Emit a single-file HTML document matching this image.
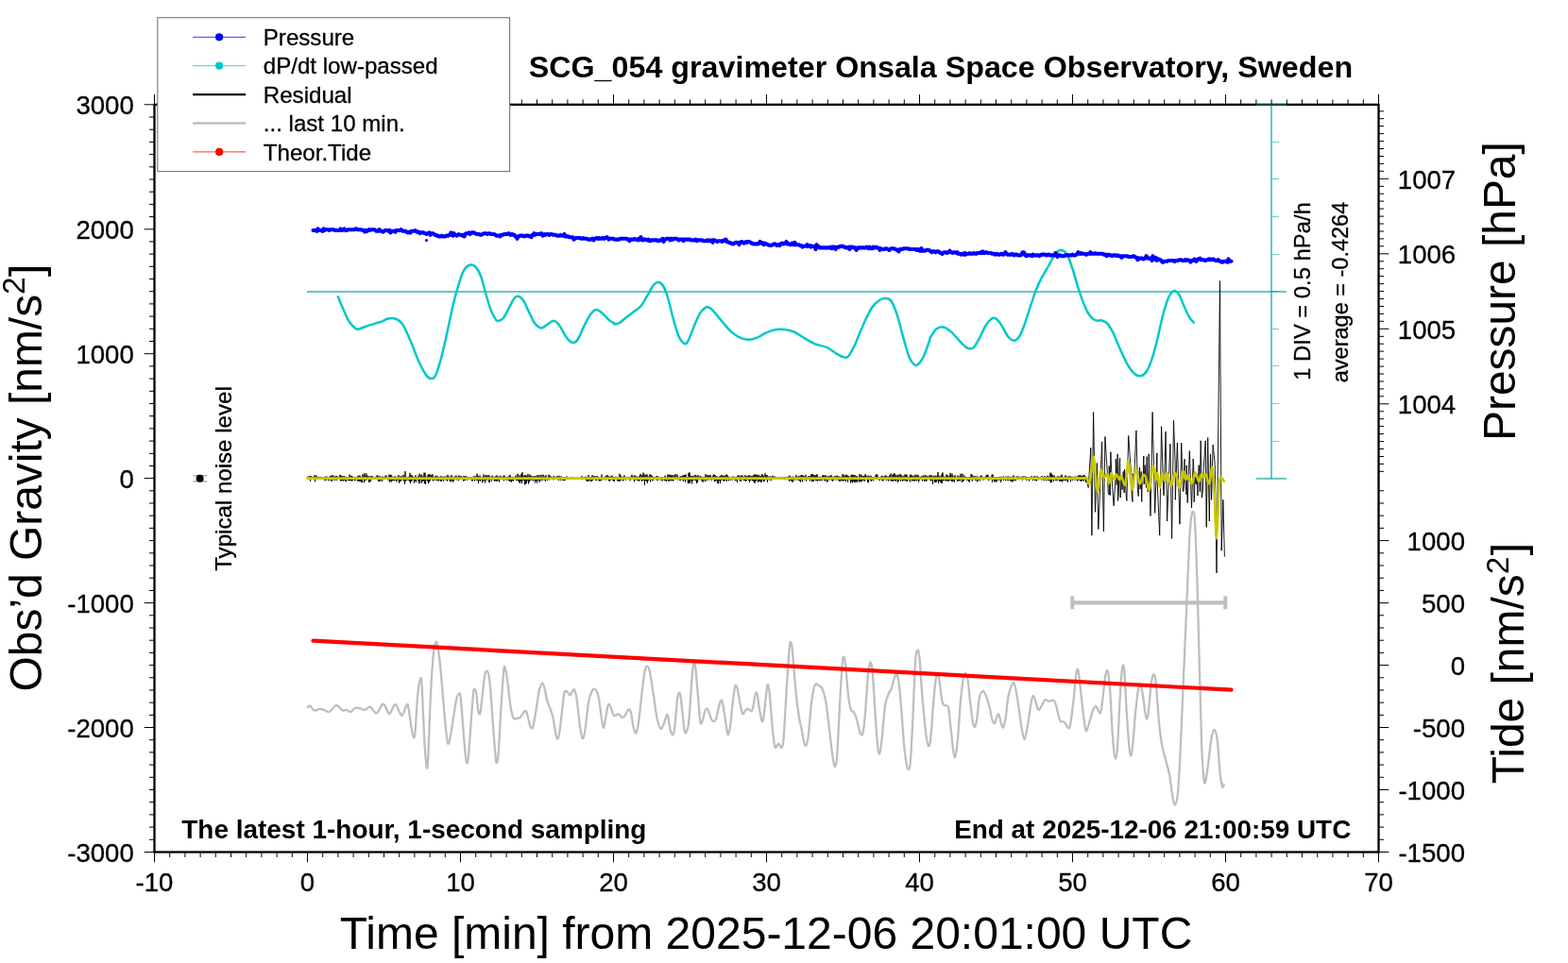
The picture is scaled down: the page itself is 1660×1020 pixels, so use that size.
<!DOCTYPE html>
<html lang="en"><head><meta charset="utf-8"><title>SCG_054 gravimeter Onsala Space Observatory, Sweden</title>
<style>html,body{margin:0;padding:0;background:#fff}body{width:1660px;height:1020px;overflow:hidden}svg{display:block}text{font-family:"Liberation Sans",sans-serif}</style>
</head><body>
<svg width="1660" height="1020" viewBox="0 0 1660 1020" font-family="Liberation Sans, Arimo, Helvetica, Arial, sans-serif" fill="#000">
<path d="M325.6 748.8 C326.1 748.7 327.1 747.3 328.4 747.9 C329.6 748.5 331.3 752.1 333 752.6 C334.7 753.1 336.9 751 338.6 750.9 C340.3 750.8 341.7 751.7 343.3 752.2 C344.8 752.7 346.5 754.2 347.9 754.1 C349.3 753.9 350.4 752.4 351.7 751.3 C352.9 750.1 354.3 747.5 355.4 747 C356.5 746.4 356.9 747.2 358.2 748.1 C359.4 749 361.4 751.9 362.8 752.6 C364.2 753.2 365.2 751.6 366.6 751.8 C368 752.1 369.7 754.4 371.2 754.1 C372.8 753.7 374.2 750.6 375.9 750 C377.6 749.3 379.8 750 381.5 750.3 C383.2 750.7 384.6 752.4 386.1 752.2 C387.7 751.9 389.5 749.1 390.8 748.8 C392 748.5 392.5 749.3 393.6 750.3 C394.7 751.4 396.2 754.4 397.3 755 C398.4 755.6 398.8 755.5 400.1 754.1 C401.3 752.6 403.5 747.3 404.7 746.2 C406 745.1 406.4 746 407.5 747.5 C408.6 749.1 410.3 754.2 411.3 755.5 C412.2 756.9 412.2 756.9 413.1 755.5 C414.1 754.2 415.8 749 416.8 747.5 C417.9 746.1 418.6 745.7 419.6 747 C420.7 748.2 422.3 753.3 423.4 755 C424.5 756.7 424.9 758.7 426.2 757.2 C427.4 755.8 429.7 747.2 430.8 746.2 C431.9 745.2 431.7 746.4 432.7 751.3 C433.6 756.1 435.3 771 436.4 775.5 C437.5 780 438.3 784.5 439.2 778.3 C440.1 772.1 441.1 748 442 738.2 C442.9 728.4 444 721.5 444.8 719.6 C445.6 717.7 445.9 715.9 446.6 727 C447.4 738.2 448.6 772.5 449.4 786.6 C450.3 800.8 451.1 809 451.7 811.8 C452.3 814.6 452.5 816.3 453.2 803.4 C453.9 790.5 455 752.8 456 734.5 C456.9 716.2 457.9 702.5 458.8 693.5 C459.6 684.5 460.4 682 461.2 680.5 C462 678.9 462.6 679.9 463.4 684.2 C464.2 688.6 465.3 697.6 466.2 706.6 C467.1 715.6 468.1 727.7 469 738.2 C469.9 748.8 470.9 761.7 471.8 769.9 C472.7 778.1 473.3 786 474.2 787.6 C475.1 789.1 476 784 477 779.2 C478 774.4 479.1 765.4 480.2 758.7 C481.3 752 482.6 743.1 483.5 739.2 C484.5 735.2 485.1 735.2 485.8 735.1 C486.4 734.9 486.8 732.1 487.6 738.2 C488.4 744.3 489.5 760.9 490.4 771.7 C491.3 782.6 492.4 797.8 493.2 803.4 C494 809 494.7 809.9 495.4 805.3 C496.2 800.6 497 786.6 497.9 775.5 C498.7 764.3 500 745.7 500.7 738.2 C501.3 730.8 501 731.7 501.6 730.8 C502.1 729.8 503.2 729.1 504 732.6 C504.8 736.2 505.5 748.5 506.2 752.2 C507 755.9 507.7 757.9 508.5 755 C509.3 752 510 741.5 510.9 734.5 C511.8 727.5 512.7 716.6 513.7 713.1 C514.7 709.5 516.1 710.1 517 713.1 C518 716 518.4 721.3 519.3 730.8 C520.1 740.2 521.2 758.4 522.1 769.9 C522.9 781.4 523.9 793.3 524.5 799.7 C525.1 806 525.3 808.4 525.8 808.1 C526.3 807.8 526.9 807.6 527.7 797.8 C528.4 788 529.5 764 530.5 749.4 C531.4 734.8 532.5 717.3 533.3 710.3 C534 703.3 534.1 705.9 534.7 707.5 C535.4 709 536 712.6 537 719.6 C538 726.6 539.6 742.6 540.7 749.4 C541.8 756.2 542.6 758.6 543.5 760.6 C544.4 762.5 545 761.3 546.3 761.1 C547.5 761 549.4 761 550.9 759.6 C552.5 758.3 554.4 753.7 555.6 753.1 C556.8 752.5 557.1 753.3 558 755.9 C559 758.6 560.2 766.5 561.2 769 C562.2 771.4 563.1 772.5 564 770.4 C564.9 768.4 565.7 763.1 566.8 756.8 C567.9 750.5 569.7 737.4 570.5 732.6 C571.3 727.8 571.3 729.5 571.9 728 C572.5 726.4 573.3 723.2 574.1 723.3 C574.9 723.5 575.6 725.8 576.5 728.9 C577.4 732 577.9 737.1 579.3 741.9 C580.7 746.8 583.3 751.7 584.9 757.8 C586.5 763.8 587.6 774.2 588.6 778.3 C589.6 782.3 590.3 783.7 591 782 C591.8 780.3 592.3 775.6 593.3 768 C594.3 760.4 596.1 742.4 597 736.4 C597.9 730.4 598.2 732.5 598.9 732.1 C599.6 731.6 600.5 732.9 601.3 733.6 C602.1 734.3 602.7 736.7 603.5 736.4 C604.4 736.1 605.5 732.6 606.3 731.7 C607.1 730.8 607.5 729.4 608.2 730.8 C608.9 732.2 609.7 733.9 610.6 740.1 C611.5 746.3 612.8 761 613.8 768 C614.8 775 615.6 781.1 616.6 782 C617.5 782.9 618.3 780 619.4 773.6 C620.4 767.2 621.8 750.8 623.1 743.8 C624.3 736.8 625.7 734 626.8 731.7 C627.9 729.4 628.7 729.5 629.6 729.8 C630.5 730.2 631.6 731.5 632.4 733.6 C633.2 735.6 633.3 736.2 634.3 741.9 C635.2 747.7 637 763.7 638 768 C638.9 772.4 638.9 771.4 639.8 768 C640.8 764.6 642.5 751 643.6 747.5 C644.6 744.1 645.1 746 646 747.5 C646.9 749.1 648.3 755.1 649.2 756.8 C650 758.6 650.1 758.2 651 758.2 C651.9 758.1 653.5 756 654.7 756.3 C656 756.5 657.4 759.2 658.5 759.6 C659.6 760 660.2 760 661.3 758.7 C662.3 757.4 663.9 752.6 665 751.8 C666.1 751 666.8 751 667.8 754.1 C668.7 757.1 669.6 766.2 670.6 769.9 C671.5 773.6 672.4 777.3 673.4 776.4 C674.3 775.5 675.1 771.9 676.2 764.3 C677.2 756.7 678.8 739.8 679.9 730.8 C681 721.8 681.8 714.5 682.7 710.3 C683.5 706.1 684.3 705.6 685.1 705.6 C685.9 705.6 686.7 706.1 687.7 710.3 C688.7 714.5 689.7 722.2 691.1 730.8 C692.4 739.3 694.3 754.7 695.7 761.5 C697.1 768.3 698.4 770.7 699.4 771.7 C700.5 772.8 701.3 770 702.2 768 C703.2 766 704.3 761.3 705 759.6 C705.8 757.9 706.1 755.5 706.9 757.8 C707.7 760.1 708.8 770.2 709.7 773.6 C710.6 777 711.7 778.9 712.5 778.3 C713.3 777.6 713.6 776.2 714.3 769.9 C715.1 763.5 716.4 746.1 717.1 740.1 C717.9 734 718.4 733.6 719 733.6 C719.6 733.6 719.9 733.4 720.9 740.1 C721.8 746.8 723.6 768 724.6 773.6 C725.6 779.3 726.2 775.5 727 774 C727.8 772.4 728.4 772.4 729.2 764.3 C730.1 756.2 731.3 735.3 732 725.2 C732.8 715.1 733.4 707.6 733.9 703.8 C734.4 699.9 734.5 700.8 735 701.9 C735.5 703 735.9 703.3 736.7 710.3 C737.4 717.3 738.7 734.8 739.5 743.8 C740.3 752.8 740.7 760.7 741.3 764.3 C742 767.9 742.4 766.9 743.2 765.2 C744 763.5 745.2 756.5 746 754.1 C746.8 751.6 747.2 751 747.9 750.7 C748.5 750.4 748.8 750.2 749.7 752.2 C750.7 754.1 752.4 760.5 753.5 762.4 C754.5 764.4 755.5 764.1 756.2 763.9 C757 763.8 757.2 764.5 758.1 761.5 C759 758.5 760.8 748.9 761.8 745.7 C762.9 742.4 763.5 740.7 764.3 741.9 C765 743.2 765.7 748.2 766.5 753.1 C767.3 758.1 768.6 767.6 769.3 771.7 C770 775.9 770.2 778.6 770.8 778.3 C771.4 778 772.2 775.6 773 769.9 C773.8 764.1 774.9 751 775.8 743.8 C776.7 736.7 777.4 729.5 778.2 727 C779 724.6 779.6 726.1 780.5 728.9 C781.3 731.7 782.3 739.3 783.3 743.8 C784.2 748.3 785.1 754.4 786 755.9 C787 757.5 787.9 754 788.8 753.1 C789.8 752.3 790.5 750.7 791.6 750.7 C792.7 750.7 794.4 753.3 795.4 753.1 C796.3 752.9 796.5 752.2 797.2 749.4 C797.9 746.6 798.7 738.8 799.5 736.4 C800.2 733.9 800.8 732.3 801.5 734.5 C802.2 736.7 802.9 744.6 803.7 749.4 C804.6 754.2 805.8 761.7 806.5 763.4 C807.3 765.1 807.6 764.5 808.4 759.6 C809.2 754.8 810.5 740.2 811.2 734.5 C811.9 728.8 812.1 725.5 812.7 725.2 C813.2 724.9 813.7 725.2 814.5 732.6 C815.4 740.1 816.7 760.1 817.7 769.9 C818.7 779.7 819.4 788.4 820.5 791.3 C821.6 794.3 822.9 787.5 824.1 787.6 C825.3 787.7 826.5 792.9 827.4 791.9 C828.4 790.8 828.8 792.2 829.7 781.1 C830.6 769.9 832 741 833 725.2 C834.1 709.4 835.1 693.5 835.8 686.1 C836.5 678.6 836.8 679.9 837.3 680.5 C837.8 681.1 838.2 681.4 839 689.8 C839.8 698.2 841.2 719 842.3 730.8 C843.5 742.6 845 753.4 846.1 760.6 C847.2 767.7 848 769.3 848.9 773.6 C849.7 778 850.5 784 851.3 786.6 C852.1 789.3 852.8 790.7 853.5 789.4 C854.3 788.2 854.8 786.8 855.8 779.2 C856.7 771.6 858.1 752.3 859.1 743.8 C860.1 735.3 861.1 731.2 861.9 728 C862.7 724.7 863 724.6 863.8 724.3 C864.5 723.9 865.5 725.3 866.6 726.1 C867.6 726.9 869 726.3 870.3 728.9 C871.5 731.5 872.8 735.1 874 741.9 C875.3 748.8 876.6 761.2 877.7 769.9 C878.8 778.6 879.7 787.6 880.5 794.1 C881.4 800.6 882.1 806.1 882.8 809 C883.4 811.9 883.7 812.7 884.3 811.4 C884.8 810.2 885.3 811.9 886.1 801.5 C886.9 791.2 888 765.9 888.9 749.4 C889.8 732.9 890.9 711.7 891.7 702.8 C892.5 694 892.9 695.7 893.6 696.3 C894.2 696.9 894.7 699.6 895.4 706.6 C896.2 713.5 897.3 730.6 898.2 738.2 C899.2 745.8 900.1 749.6 901 752.2 C901.9 754.8 902.9 752.7 903.8 754.1 C904.7 755.5 905.7 757.6 906.6 760.6 C907.5 763.5 908.6 768.9 909.4 771.7 C910.2 774.6 910.6 776.9 911.3 777.7 C911.9 778.5 912.7 779.9 913.5 776.4 C914.3 772.9 915 766.6 915.9 756.8 C916.8 747.1 917.9 726.6 918.7 717.7 C919.5 708.9 920 706.3 920.6 703.8 C921.1 701.2 921.5 700.8 922.1 702.5 C922.6 704.2 923.1 703.7 923.9 714 C924.8 724.3 926.2 751.1 927.1 764.3 C928 777.5 928.8 787.6 929.5 793.2 C930.2 798.8 930.7 799.5 931.4 797.8 C932.1 796.1 932.7 791.3 933.6 782.9 C934.5 774.5 935.9 755.3 937 747.5 C938 739.8 939 739.5 940.1 736.4 C941.3 733.3 942.8 731.9 943.9 728.9 C944.9 726 945.8 721.2 946.6 718.7 C947.5 716.2 948.1 713.5 948.9 714 C949.7 714.5 950.4 715.6 951.3 721.5 C952.2 727.4 953.2 738.5 954.1 749.4 C955 760.3 956 776.7 956.9 786.6 C957.8 796.6 958.8 804.3 959.7 809 C960.5 813.7 961.2 815.3 961.9 815 C962.6 814.6 963.1 815.6 963.8 807.1 C964.5 798.7 965.3 782 966.2 764.3 C967.1 746.6 968.2 713.4 969 701 C969.8 688.6 970.3 691.7 970.9 689.8 C971.4 687.9 971.7 687.9 972.2 689.4 C972.6 691 972.9 691 973.7 699.1 C974.4 707.2 975.5 726.7 976.4 738.2 C977.4 749.7 978.5 760.6 979.2 768 C980 775.5 980.4 779.2 981.1 782.9 C981.8 786.6 982.6 790.7 983.3 790.4 C984.1 790.1 984.7 787.6 985.4 781.1 C986.1 774.5 986.8 761.2 987.6 751.3 C988.5 741.3 989.5 727.8 990.4 721.5 C991.3 715.1 992.1 712.5 992.8 713.1 C993.6 713.7 994.3 720.4 995.1 725.2 C995.8 730 996.5 738.3 997.3 741.9 C998.1 745.6 998.9 746.3 999.7 747.2 C1000.5 748 1001.4 746.5 1002.1 747.2 C1002.9 747.8 1003.5 746.2 1004.4 751.3 C1005.2 756.3 1006.2 769.2 1007.2 777.3 C1008.1 785.5 1009.2 796.4 1010 800.1 C1010.7 803.7 1011.2 802.5 1011.8 799.3 C1012.5 796.1 1013.2 790.6 1014.1 781.1 C1014.9 771.5 1016.1 752.2 1017 741.9 C1018 731.7 1018.8 724.4 1019.7 719.6 C1020.5 714.8 1021.3 713.1 1022.1 713.1 C1022.9 713.1 1023.7 715.1 1024.5 719.6 C1025.3 724.1 1025.9 732.9 1026.7 740.1 C1027.6 747.2 1028.8 757.5 1029.5 762.4 C1030.3 767.4 1030.7 769.6 1031.4 769.9 C1032.1 770.2 1032.9 769.6 1033.8 764.3 C1034.7 759 1036 743.5 1037 738.2 C1038 732.9 1039 733.6 1039.8 732.6 C1040.5 731.7 1040.9 731.7 1041.6 732.6 C1042.4 733.6 1043.3 735.1 1044.4 738.2 C1045.5 741.3 1047.2 747.5 1048.2 751.3 C1049.1 755 1049.2 758.1 1050 760.6 C1050.8 763.1 1051.9 766.5 1052.8 766.2 C1053.7 765.9 1054.8 760.3 1055.6 758.7 C1056.4 757.2 1056.8 755.6 1057.5 756.8 C1058.2 758.1 1059.1 763.9 1059.9 766.2 C1060.7 768.4 1061.3 771.7 1062.1 770.4 C1063 769.2 1064 764.4 1064.9 758.7 C1065.8 753 1066.3 742.2 1067.7 736.4 C1069.1 730.5 1071.7 722.7 1073.2 723.4 C1074.8 724 1075.8 732.5 1077.1 740.2 C1078.5 747.9 1080.1 762.1 1081.3 769.3 C1082.6 776.5 1083.5 783.2 1084.6 783.2 C1085.6 783.2 1086.4 776.6 1087.8 769.3 C1089.1 762 1091.4 744.5 1092.6 739.6 C1093.9 734.6 1094.1 737.6 1095.2 739.6 C1096.3 741.5 1097.9 750.1 1099.1 751.5 C1100.3 753 1101.2 750 1102.3 748.3 C1103.5 746.6 1104.9 742.1 1106.2 741.2 C1107.6 740.3 1108.9 742.7 1110.4 742.8 C1111.9 742.9 1114 741.2 1115.3 741.8 C1116.5 742.5 1116.7 743.1 1117.9 746.7 C1119 750.3 1120.9 760.5 1122.4 763.5 C1123.8 766.4 1125.2 763.2 1126.6 764.5 C1128 765.7 1129.7 770.4 1130.8 770.9 C1131.9 771.5 1132.1 772.3 1133.1 767.7 C1134 763.1 1135.2 752.6 1136.3 743.4 C1137.4 734.3 1138.6 717.9 1139.5 712.7 C1140.4 707.5 1140.9 707.5 1141.8 712.1 C1142.7 716.6 1143.8 730.1 1145 740.2 C1146.3 750.3 1148 768 1149.2 772.5 C1150.5 777.1 1151.1 771.2 1152.5 767.7 C1153.8 764.2 1156 754.8 1157.3 751.5 C1158.7 748.3 1159.3 747.6 1160.5 748.3 C1161.8 748.9 1163.7 756.2 1164.8 755.4 C1165.8 754.6 1166.1 750 1167 743.4 C1167.9 736.9 1169.3 721.3 1170.2 715.9 C1171.2 710.6 1172 708.7 1172.8 711.1 C1173.6 713.5 1174.2 718.1 1175.1 730.5 C1176 742.9 1177.4 773.3 1178.3 785.5 C1179.3 797.6 1180.1 802.7 1180.9 803.3 C1181.7 803.8 1182.4 799.8 1183.2 788.7 C1184 777.7 1185 750.4 1185.8 737 C1186.6 723.5 1187.3 712.3 1188 707.9 C1188.8 703.4 1189.5 702.4 1190.3 710.4 C1191.1 718.5 1191.9 742 1192.9 756.4 C1193.9 770.8 1195.1 790.6 1196.1 796.8 C1197.1 803 1197.7 800.3 1198.7 793.6 C1199.7 786.8 1200.9 767.1 1201.9 756.4 C1203 745.6 1204.3 734 1205.2 728.9 C1206.1 723.8 1206.6 724.3 1207.4 725.6 C1208.2 727 1209.1 731.3 1210 737 C1211 742.6 1212.3 756.4 1213.3 759.6 C1214.2 762.8 1214.6 762.3 1215.5 756.4 C1216.4 750.4 1217.8 731 1218.8 724 C1219.7 717 1220.2 714.6 1221 714.3 C1221.8 714.1 1222.6 714.3 1223.6 722.4 C1224.6 730.5 1225.8 751.8 1226.8 762.8 C1227.9 773.9 1228.7 781.2 1230.1 788.7 C1231.4 796.3 1233.6 802.7 1234.9 808.1 C1236.3 813.5 1237.1 815.1 1238.2 821 C1239.2 827 1240.4 838.5 1241.4 843.7 C1242.4 848.9 1243.1 853 1244 852.4 C1244.9 851.9 1246 849.4 1246.9 840.4 C1247.8 831.4 1248.5 817.8 1249.5 798.4 C1250.4 779 1251.6 748.8 1252.7 724 C1253.8 699.2 1254.9 675 1255.9 649.7 C1257 624.3 1258.3 589.3 1259.2 572 C1260.1 554.8 1260.7 551.1 1261.4 546.2 C1262.1 541.2 1262.8 541.2 1263.4 542.3 C1264 543.4 1264.4 541.2 1265 552.6 C1265.6 564.1 1266.5 585 1267.3 610.8 C1268.1 636.7 1269 678.2 1269.9 707.9 C1270.7 737.5 1271.4 769.3 1272.1 788.7 C1272.9 808.1 1273.7 817.8 1274.4 824.3 C1275.1 830.7 1275.5 830.7 1276.3 827.5 C1277.2 824.3 1278.5 812.7 1279.6 804.9 C1280.6 797.1 1281.7 785.9 1282.8 780.6 C1283.9 775.3 1285 772.4 1286 773.2 C1287 774 1288 778 1288.9 785.5 C1289.8 792.9 1290.7 809.8 1291.5 817.8 C1292.4 825.8 1293.4 831.2 1294.1 833.3 C1294.8 835.5 1295.5 831.2 1295.7 830.7" fill="none" stroke="#bebebe" stroke-width="2.3" stroke-linejoin="round" stroke-linecap="round"/>
<path d="M1135.3 638.3 H1297.3" stroke="#bebebe" stroke-width="4.2" fill="none"/>
<path d="M1135.3 631.5 V645.3 M1297.3 631.5 V645.3" stroke="#bebebe" stroke-width="4" fill="none"/>
<path d="M331.5 678.6 L1303.5 730.7" stroke="#ff0000" stroke-width="4.2" stroke-linecap="round" fill="none"/>
<path d="M325 309 H1362" stroke="#00a0a0" stroke-opacity="0.6" stroke-width="2" fill="none" shape-rendering="crispEdges"/>
<path d="M1346 110.8 V506.6" stroke="#00a0a0" stroke-opacity="0.6" stroke-width="2" fill="none" shape-rendering="crispEdges"/>
<path d="M1330 507 H1362" stroke="#00a0a0" stroke-opacity="0.6" stroke-width="2" fill="none" shape-rendering="crispEdges"/>
<path d="M1347 150.5 H1354 M1347 189.5 H1354 M1347 229.5 H1354 M1347 269.5 H1354 M1347 308.5 H1354 M1347 348.5 H1354 M1347 387.5 H1354 M1347 427.5 H1354 M1347 467.5 H1354 " stroke="#00a0a0" stroke-opacity="0.55" stroke-width="1" fill="none" shape-rendering="crispEdges"/>
<path d="M325.5 507.4 L326 504.6 L326.5 507.6 L327 505.9 L327.5 507.4 L328 504 L328.5 509.7 L329 504.1 L329.5 508 L330 505.5 L330.5 507.7 L331 505.4 L331.5 507.4 L332 505.3 L332.5 507.8 L333 503.3 L333.5 510.2 L334 504.7 L334.5 507.8 L335 503.5 L335.5 507.9 L336 505.4 L336.5 507.3 L337 505.6 L337.5 507.8 L338 505.3 L338.5 507.6 L339 504.9 L339.5 507.5 L340 505.5 L340.5 507.5 L341 505.5 L341.5 507.3 L342 506 L342.5 507.7 L343 505.6 L343.5 508.6 L344 504.9 L344.5 508.9 L345 504.8 L345.5 508.4 L346 504.6 L346.5 507.7 L347 505.7 L347.5 509.1 L348 505.9 L348.5 508.6 L349 504.8 L349.5 507.5 L350 503.8 L350.5 509.9 L351 504.2 L351.5 509.7 L352 503.1 L352.5 507.8 L353 504.7 L353.5 508.3 L354 504.5 L354.5 508.7 L355 504.5 L355.5 508.2 L356 504.2 L356.5 508.7 L357 504.4 L357.5 507.8 L358 505.7 L358.5 507.8 L359 504.9 L359.5 507.9 L360 502.8 L360.5 509.4 L361 503.8 L361.5 509.3 L362 503.9 L362.5 508.6 L363 505.7 L363.5 509.5 L364 504.1 L364.5 508.4 L365 504.6 L365.5 509.4 L366 505.4 L366.5 510.3 L367 505.1 L367.5 507.7 L368 505.5 L368.5 508.6 L369 505.7 L369.5 509.2 L370 502.7 L370.5 509.1 L371 504.5 L371.5 508.9 L372 503.8 L372.5 509.5 L373 504.5 L373.5 508.9 L374 505.7 L374.5 507.6 L375 505.5 L375.5 509.1 L376 505.4 L376.5 508.6 L377 505.8 L377.5 507.6 L378 505.3 L378.5 509.4 L379 503.7 L379.5 509.9 L380 504.7 L380.5 509.8 L381 503.5 L381.5 509.7 L382 505.1 L382.5 511.1 L383 505.3 L383.5 510.8 L384 502.3 L384.5 507.9 L385 504 L385.5 511.2 L386 501.2 L386.5 509.3 L387 504.7 L387.5 508.4 L388 501.7 L388.5 508.2 L389 504 L389.5 507.9 L390 504.3 L390.5 510.9 L391 505.3 L391.5 510.4 L392 504.4 L392.5 510 L393 504.3 L393.5 507.6 L394 504.2 L394.5 508 L395 506 L395.5 507.3 L396 505.3 L396.5 507.9 L397 505.6 L397.5 507.5 L398 505.4 L398.5 507.9 L399 503.6 L399.5 507.6 L400 503.6 L400.5 510 L401 505.6 L401.5 510 L402 504.2 L402.5 509.6 L403 505.4 L403.5 508 L404 505.3 L404.5 509.9 L405 504.6 L405.5 508.1 L406 504.9 L406.5 508 L407 505.7 L407.5 507.6 L408 503.8 L408.5 507.9 L409 503.6 L409.5 507.8 L410 505.6 L410.5 508.3 L411 505.6 L411.5 508.3 L412 502.7 L412.5 510.5 L413 503.2 L413.5 509.3 L414 502.8 L414.5 510.6 L415 504.5 L415.5 509.2 L416 505.8 L416.5 508.8 L417 505.1 L417.5 509.2 L418 504.3 L418.5 508.1 L419 505.6 L419.5 510.3 L420 505.5 L420.5 508.6 L421 505 L421.5 508.3 L422 503.1 L422.5 511.7 L423 504.8 L423.5 510.2 L424 504.6 L424.5 509.7 L425 504.3 L425.5 508.2 L426 505.2 L426.5 508.1 L427 502.8 L427.5 509.2 L428 504.7 L428.5 512.6 L429 499.2 L429.5 509.9 L430 504.9 L430.5 508.3 L431 505.5 L431.5 508.4 L432 505.3 L432.5 508.4 L433 504.7 L433.5 510.1 L434 500.9 L434.5 511.8 L435 503.4 L435.5 509.9 L436 503.2 L436.5 509.1 L437 504.7 L437.5 507.9 L438 504.9 L438.5 511.7 L439 505.1 L439.5 509.6 L440 503.4 L440.5 510.5 L441 505.3 L441.5 507.9 L442 505.3 L442.5 508.7 L443 504.2 L443.5 512.1 L444 501.8 L444.5 511.7 L445 505.1 L445.5 508.2 L446 502.5 L446.5 511.8 L447 503.8 L447.5 509.9 L448 505.2 L448.5 509.3 L449 500.7 L449.5 512.2 L450 500.8 L450.5 512.8 L451 504.7 L451.5 508.1 L452 505.2 L452.5 509.4 L453 502.9 L453.5 512.1 L454 502.3 L454.5 510.4 L455 502.4 L455.5 509.2 L456 503.8 L456.5 507.9 L457 502.9 L457.5 508.2 L458 502.5 L458.5 509.4 L459 505.1 L459.5 507.8 L460 505.3 L460.5 509.1 L461 503.8 L461.5 507.8 L462 505.5 L462.5 509.2 L463 503.9 L463.5 508.7 L464 505.1 L464.5 509.5 L465 505.5 L465.5 508.2 L466 504.8 L466.5 510 L467 504.3 L467.5 510 L468 504.7 L468.5 508 L469 505.4 L469.5 509.8 L470 504.6 L470.5 507.6 L471 506 L471.5 508.2 L472 504.3 L472.5 508.5 L473 505.2 L473.5 509.4 L474 502.9 L474.5 508 L475 505.6 L475.5 508.4 L476 504.6 L476.5 509.9 L477 505.1 L477.5 510.4 L478 503.2 L478.5 509 L479 505.2 L479.5 510.6 L480 505.2 L480.5 509.4 L481 505.6 L481.5 507.7 L482 504.3 L482.5 507.8 L483 503.6 L483.5 508.4 L484 505.5 L484.5 507.9 L485 504.8 L485.5 509.2 L486 503.5 L486.5 507.5 L487 505.6 L487.5 507.4 L488 504 L488.5 507.5 L489 505.8 L489.5 507.5 L490 505.2 L490.5 509.4 L491 504.2 L491.5 508.6 L492 504 L492.5 509.1 L493 505.6 L493.5 507.4 L494 504.3 L494.5 508.4 L495 506 L495.5 508.2 L496 505.5 L496.5 508 L497 505.2 L497.5 507.9 L498 505.6 L498.5 508 L499 505.3 L499.5 509.4 L500 505.9 L500.5 509.4 L501 505.7 L501.5 507.9 L502 504 L502.5 509.5 L503 504.9 L503.5 507.7 L504 504.6 L504.5 508.7 L505 501.8 L505.5 508.5 L506 503.9 L506.5 512 L507 505.3 L507.5 508.7 L508 503.6 L508.5 509.6 L509 505.6 L509.5 507.8 L510 505.4 L510.5 511.1 L511 505 L511.5 510.1 L512 502.5 L512.5 508.5 L513 504.9 L513.5 511.4 L514 503.5 L514.5 508.4 L515 503.2 L515.5 508.5 L516 505 L516.5 507.8 L517 503.2 L517.5 510.9 L518 503.7 L518.5 511 L519 505.6 L519.5 507.9 L520 504.9 L520.5 509.6 L521 503.7 L521.5 508 L522 505.5 L522.5 508.2 L523 504.9 L523.5 509.7 L524 505.6 L524.5 509.2 L525 504.1 L525.5 509.8 L526 503.5 L526.5 509.4 L527 504.8 L527.5 508.5 L528 504.6 L528.5 510.5 L529 505.3 L529.5 508.1 L530 503.8 L530.5 507.8 L531 505.9 L531.5 507.4 L532 505.1 L532.5 507.8 L533 503.8 L533.5 509.3 L534 503.6 L534.5 507.7 L535 505.8 L535.5 507.5 L536 505 L536.5 508.9 L537 505.1 L537.5 507.8 L538 505 L538.5 509.1 L539 503.9 L539.5 509.9 L540 502.9 L540.5 509.7 L541 505.3 L541.5 510.6 L542 505 L542.5 509.1 L543 504.9 L543.5 509.5 L544 505.5 L544.5 507.8 L545 505.5 L545.5 507.6 L546 503.6 L546.5 508.9 L547 505 L547.5 508.7 L548 501.8 L548.5 509.2 L549 505 L549.5 510.5 L550 503.4 L550.5 511.9 L551 505.1 L551.5 509.5 L552 501.8 L552.5 512.1 L553 500.3 L553.5 508.6 L554 503.8 L554.5 508.7 L555 504.4 L555.5 513.4 L556 502.8 L556.5 512.6 L557 504 L557.5 511.9 L558 503.8 L558.5 508.8 L559 502 L559.5 512.5 L560 504.9 L560.5 510.5 L561 502.7 L561.5 508.8 L562 503.9 L562.5 508.4 L563 504.9 L563.5 508.3 L564 504.2 L564.5 509.3 L565 505.1 L565.5 508.1 L566 504.1 L566.5 511.4 L567 504.5 L567.5 509.2 L568 504.6 L568.5 511.6 L569 503.1 L569.5 508.3 L570 504.9 L570.5 509.5 L571 503.1 L571.5 510.6 L572 505 L572.5 508.4 L573 502.9 L573.5 508.9 L574 504.9 L574.5 508.3 L575 502.7 L575.5 508.2 L576 504.3 L576.5 508.3 L577 504.9 L577.5 509.7 L578 503.3 L578.5 507.9 L579 505.7 L579.5 509.1 L580 505.4 L580.5 507.7 L581 502.7 L581.5 508.4 L582 503.8 L582.5 508 L583 504.4 L583.5 507.9 L584 505.9 L584.5 507.3 L585 505.2 L585.5 508.3 L586 504.2 L586.5 507.4 L587 504.9 L587.5 507.9 L588 505.2 L588.5 507.5 L589 505.6 L589.5 508.1 L590 504 L590.5 507.5 L591 505.1 L591.5 509.1 L592 503.8 L592.5 507.5 L593 505.9 L593.5 508.9 L594 504.4 L594.5 507.8 L595 506.1 L595.5 508.7 L596 505.6 L596.5 508.8 L597 505.1 L597.5 508.8 L598 505.9 L598.5 508.6 L599 505.8 L599.5 507.8 L600 504.5 L600.5 507.4 L601 506.3 L601.5 507 L602 506.2 L602.5 507.2 L603 506.3 L603.5 506.9 L604 506.4 L604.5 507.4 L605 505.5 L605.5 507 L606 505.7 L606.5 507.8 L607 506.3 L607.5 507.8 L608 506.3 L608.5 507.4 L609 506 L609.5 507.3 L610 506.3 L610.5 507.1 L611 506.1 L611.5 507.1 L612 506 L612.5 507.1 L613 506.2 L613.5 506.9 L614 506 L614.5 507.2 L615 506.3 L615.5 507.5 L616 504.2 L616.5 508.2 L617 505.7 L617.5 508 L618 505.9 L618.5 507.4 L619 505.2 L619.5 507.6 L620 504.7 L620.5 509.1 L621 505.4 L621.5 509.7 L622 505.3 L622.5 510.2 L623 503.1 L623.5 508.9 L624 505.6 L624.5 508.5 L625 505.2 L625.5 510 L626 505.6 L626.5 509.7 L627 503.3 L627.5 508.9 L628 504.4 L628.5 507.5 L629 504.3 L629.5 507.9 L630 504.3 L630.5 508.9 L631 505.9 L631.5 508.7 L632 504 L632.5 507.4 L633 505.4 L633.5 509 L634 505.7 L634.5 509.3 L635 505.6 L635.5 509.3 L636 505.6 L636.5 508.8 L637 502.6 L637.5 508 L638 505.3 L638.5 508.3 L639 505.6 L639.5 507.3 L640 505.9 L640.5 507.4 L641 504.5 L641.5 508.4 L642 503.8 L642.5 507.8 L643 503.2 L643.5 508 L644 504.2 L644.5 509.3 L645 505 L645.5 509.8 L646 504.8 L646.5 508.5 L647 504.2 L647.5 507.4 L648 503.8 L648.5 508.6 L649 505.2 L649.5 509.5 L650 505.4 L650.5 509.7 L651 505.1 L651.5 507.6 L652 504.8 L652.5 508 L653 505.7 L653.5 509.2 L654 505.7 L654.5 510 L655 505.1 L655.5 509.7 L656 501.8 L656.5 509.5 L657 503.5 L657.5 508.4 L658 505.5 L658.5 507.8 L659 505.4 L659.5 509.3 L660 504.7 L660.5 508.7 L661 503.5 L661.5 507.6 L662 505.7 L662.5 508.6 L663 505.9 L663.5 507.4 L664 505.3 L664.5 507.5 L665 505.4 L665.5 507.6 L666 505.1 L666.5 508.4 L667 505.6 L667.5 508.9 L668 504.6 L668.5 507.9 L669 502.8 L669.5 508 L670 505.5 L670.5 507.7 L671 504.2 L671.5 510.2 L672 503.4 L672.5 508.6 L673 505.2 L673.5 507.6 L674 504.3 L674.5 508.6 L675 505.3 L675.5 508.8 L676 505.1 L676.5 509.8 L677 503.9 L677.5 508.2 L678 502 L678.5 508.2 L679 503.1 L679.5 509.7 L680 504.2 L680.5 508.7 L681 500.6 L681.5 508.6 L682 502.4 L682.5 513.7 L683 504.5 L683.5 508.9 L684 502.5 L684.5 510.1 L685 502.6 L685.5 511.6 L686 504.8 L686.5 508.8 L687 504.6 L687.5 508 L688 502.2 L688.5 510.4 L689 503.4 L689.5 507.7 L690 503.5 L690.5 509.2 L691 505.2 L691.5 508.8 L692 505.1 L692.5 507.8 L693 505.7 L693.5 507.9 L694 505.8 L694.5 508 L695 504.2 L695.5 508.8 L696 504.2 L696.5 508.5 L697 505.8 L697.5 507.9 L698 505.6 L698.5 508.4 L699 505.4 L699.5 507.5 L700 505.1 L700.5 509.2 L701 505.7 L701.5 509.2 L702 505.9 L702.5 507.7 L703 505.7 L703.5 508.8 L704 503.7 L704.5 509.2 L705 505.2 L705.5 510.1 L706 505 L706.5 508.1 L707 502.5 L707.5 509.6 L708 503.4 L708.5 509.6 L709 502.7 L709.5 508.5 L710 503.7 L710.5 509.3 L711 503.1 L711.5 508.8 L712 503.2 L712.5 509.5 L713 504.8 L713.5 508.3 L714 503.5 L714.5 508 L715 502.1 L715.5 508.1 L716 505.4 L716.5 508 L717 502.6 L717.5 508.3 L718 505.6 L718.5 507.5 L719 505.8 L719.5 509 L720 504.6 L720.5 508.9 L721 504.2 L721.5 507.6 L722 504.5 L722.5 508.2 L723 503.6 L723.5 509.8 L724 503.2 L724.5 507.7 L725 503.1 L725.5 510.5 L726 502.5 L726.5 507.9 L727 505.1 L727.5 508.2 L728 505.1 L728.5 512.2 L729 501 L729.5 511.3 L730 500.3 L730.5 511.7 L731 503.7 L731.5 508.8 L732 504.5 L732.5 512.4 L733 504.3 L733.5 509.3 L734 503.8 L734.5 508.1 L735 504.8 L735.5 508.6 L736 502.8 L736.5 508.9 L737 504.5 L737.5 511.9 L738 503.9 L738.5 511.2 L739 503.3 L739.5 507.9 L740 504.8 L740.5 508.3 L741 504.5 L741.5 507.9 L742 504.3 L742.5 508.7 L743 505.3 L743.5 510.4 L744 505.4 L744.5 510.4 L745 505.2 L745.5 507.9 L746 505.1 L746.5 510.2 L747 502.2 L747.5 507.8 L748 504.3 L748.5 509 L749 503.1 L749.5 508.1 L750 504.4 L750.5 508.4 L751 503.3 L751.5 508 L752 503.1 L752.5 508 L753 505.5 L753.5 508.9 L754 504.8 L754.5 507.8 L755 503.6 L755.5 508.1 L756 502.4 L756.5 510.2 L757 503 L757.5 509.4 L758 504.8 L758.5 508.8 L759 504.3 L759.5 511.8 L760 505 L760.5 512.2 L761 505 L761.5 508.8 L762 504.3 L762.5 512 L763 503.9 L763.5 508.7 L764 502.9 L764.5 508.1 L765 504.6 L765.5 508.9 L766 503.7 L766.5 509.9 L767 503.7 L767.5 508.7 L768 504.6 L768.5 508.2 L769 502.4 L769.5 509.8 L770 503.3 L770.5 508 L771 504.8 L771.5 509.3 L772 504.9 L772.5 507.4 L773 505.3 L773.5 509 L774 505.8 L774.5 507.5 L775 505.7 L775.5 508.5 L776 504.5 L776.5 507.4 L777 505.7 L777.5 507.9 L778 505 L778.5 509.2 L779 505.2 L779.5 508.5 L780 505.2 L780.5 511.1 L781 503.6 L781.5 507.7 L782 503.5 L782.5 507.4 L783 505.4 L783.5 510 L784 503.6 L784.5 509.8 L785 504.4 L785.5 508.2 L786 503.4 L786.5 508.1 L787 504.9 L787.5 508.9 L788 505.4 L788.5 508.8 L789 503 L789.5 509.7 L790 504.4 L790.5 509.2 L791 504.7 L791.5 507.8 L792 504 L792.5 508.7 L793 503.1 L793.5 510.9 L794 504.6 L794.5 509 L795 503.9 L795.5 508.3 L796 505.5 L796.5 509.1 L797 503.8 L797.5 509.4 L798 503.4 L798.5 511.4 L799 502.2 L799.5 511.3 L800 503.3 L800.5 509.2 L801 502.7 L801.5 508.3 L802 504 L802.5 511 L803 502.8 L803.5 510 L804 504.7 L804.5 509.4 L805 503.7 L805.5 510.7 L806 503.9 L806.5 510.4 L807 502 L807.5 508.1 L808 503.7 L808.5 510.3 L809 504.4 L809.5 509.4 L810 501.3 L810.5 508 L811 503.8 L811.5 508.2 L812 502.9 L812.5 510.8 L813 504.6 L813.5 507.6 L814 504.9 L814.5 508.3 L815 504.5 L815.5 508.2 L816 504.7 L816.5 509.1 L817 505 L817.5 508 L818 503.8 L818.5 507.6 L819 504.6 L819.5 507.9 L820 504.5 L820.5 507.1 L821 505 L821.5 507.4 L822 506.2 L822.5 507.3 L823 505.9 L823.5 507.1 L824 506 L824.5 507.3 L825 505.6 L825.5 507.3 L826 506.1 L826.5 507.2 L827 505.5 L827.5 508 L828 505.9 L828.5 507.1 L829 505.4 L829.5 507.4 L830 506 L830.5 507.3 L831 505 L831.5 508.3 L832 505.5 L832.5 507.5 L833 505.7 L833.5 507.2 L834 505 L834.5 507.4 L835 504.4 L835.5 509.6 L836 503.7 L836.5 508.5 L837 505.2 L837.5 509 L838 505.4 L838.5 510.4 L839 504.7 L839.5 510.4 L840 505.2 L840.5 508.3 L841 505.4 L841.5 508.4 L842 505.3 L842.5 507.8 L843 503.1 L843.5 508.4 L844 505.1 L844.5 508.2 L845 504.7 L845.5 508.5 L846 504.1 L846.5 509.3 L847 505 L847.5 510.5 L848 503.1 L848.5 507.7 L849 503.2 L849.5 510.4 L850 503.7 L850.5 507.6 L851 504.1 L851.5 508.4 L852 505.8 L852.5 507.6 L853 502.9 L853.5 509.5 L854 505.2 L854.5 507.8 L855 505.5 L855.5 507.9 L856 504 L856.5 508 L857 505.7 L857.5 509.4 L858 503.9 L858.5 507.9 L859 502.2 L859.5 510.2 L860 502.2 L860.5 510.1 L861 502.6 L861.5 509.8 L862 503.5 L862.5 507.9 L863 503.7 L863.5 509.1 L864 503.2 L864.5 509 L865 502.2 L865.5 509.6 L866 504.7 L866.5 508.4 L867 505.2 L867.5 509.1 L868 505.4 L868.5 508.8 L869 505.4 L869.5 508.7 L870 504.7 L870.5 508.7 L871 503.3 L871.5 507.6 L872 503.3 L872.5 508.7 L873 504.3 L873.5 509.3 L874 503.3 L874.5 508.4 L875 504.7 L875.5 510.9 L876 505.4 L876.5 509.5 L877 504.1 L877.5 507.5 L878 504.8 L878.5 508.4 L879 503.9 L879.5 507.9 L880 503.2 L880.5 508.7 L881 504.8 L881.5 509.7 L882 505.8 L882.5 508.8 L883 504.8 L883.5 507.8 L884 504.1 L884.5 507.9 L885 505 L885.5 508.6 L886 503.7 L886.5 508 L887 504.6 L887.5 508.6 L888 504.4 L888.5 509.8 L889 505.3 L889.5 509.8 L890 504.9 L890.5 508.7 L891 505.2 L891.5 508.9 L892 502.3 L892.5 509.6 L893 502.9 L893.5 508.6 L894 504.7 L894.5 508.7 L895 503.4 L895.5 510.1 L896 502.7 L896.5 507.9 L897 503.5 L897.5 510.6 L898 504 L898.5 507.9 L899 504.7 L899.5 508 L900 505 L900.5 511.5 L901 503.5 L901.5 510 L902 502.6 L902.5 511.5 L903 503.4 L903.5 510 L904 503.1 L904.5 510.7 L905 503.1 L905.5 510.8 L906 504.7 L906.5 510.4 L907 504 L907.5 510.5 L908 505.2 L908.5 508.2 L909 505.3 L909.5 510.6 L910 502 L910.5 509.9 L911 504.6 L911.5 510.5 L912 502.9 L912.5 509.6 L913 504.7 L913.5 508.8 L914 504 L914.5 508.8 L915 504.2 L915.5 509.8 L916 502.2 L916.5 507.9 L917 503.8 L917.5 507.9 L918 505.2 L918.5 510.7 L919 503.7 L919.5 511.3 L920 504.2 L920.5 507.8 L921 504.9 L921.5 508.8 L922 503.7 L922.5 509.7 L923 505 L923.5 508.2 L924 505.6 L924.5 509.2 L925 505.3 L925.5 508 L926 505.5 L926.5 507.9 L927 503.4 L927.5 508 L928 502.2 L928.5 507.9 L929 503.2 L929.5 507.7 L930 505.9 L930.5 508.5 L931 505.8 L931.5 508.6 L932 505.8 L932.5 507.3 L933 504.5 L933.5 508.9 L934 503.8 L934.5 509.3 L935 505.7 L935.5 508.7 L936 504.5 L936.5 508.1 L937 503.9 L937.5 507.7 L938 503.5 L938.5 509.1 L939 505.7 L939.5 507.5 L940 504.4 L940.5 509.4 L941 505.7 L941.5 508.2 L942 503.2 L942.5 508.3 L943 501.6 L943.5 509.8 L944 505 L944.5 509.3 L945 502.8 L945.5 509.8 L946 502.1 L946.5 508.6 L947 501.2 L947.5 509.2 L948 503.2 L948.5 509.6 L949 504.9 L949.5 508.3 L950 503.3 L950.5 511.1 L951 502.7 L951.5 509.7 L952 504.8 L952.5 507.9 L953 502 L953.5 509.8 L954 503.3 L954.5 508.1 L955 504.7 L955.5 509.5 L956 503.9 L956.5 509 L957 505 L957.5 508.9 L958 502.4 L958.5 508.7 L959 503.3 L959.5 509.6 L960 502.6 L960.5 509.9 L961 505.4 L961.5 507.4 L962 505.5 L962.5 508.3 L963 504.2 L963.5 510.4 L964 502.5 L964.5 507.8 L965 503.4 L965.5 509.5 L966 503.8 L966.5 508.6 L967 505.4 L967.5 509.6 L968 503.8 L968.5 509.3 L969 502.7 L969.5 508.5 L970 505.3 L970.5 509.4 L971 502.9 L971.5 508.2 L972 503.2 L972.5 510.6 L973 505.4 L973.5 508.7 L974 504.7 L974.5 508.1 L975 505.6 L975.5 507.8 L976 504 L976.5 509.6 L977 504.8 L977.5 507.7 L978 503.3 L978.5 509.9 L979 505.3 L979.5 509 L980 503.1 L980.5 510.1 L981 504.5 L981.5 508.6 L982 504.4 L982.5 507.9 L983 505.4 L983.5 508 L984 503.5 L984.5 508.6 L985 503.6 L985.5 509.2 L986 503.2 L986.5 508.7 L987 504.9 L987.5 512.7 L988 504.4 L988.5 507.9 L989 503.8 L989.5 510.8 L990 504.8 L990.5 510.8 L991 503.7 L991.5 510.5 L992 504.9 L992.5 508.4 L993 500 L993.5 511.9 L994 503.8 L994.5 509.5 L995 505.1 L995.5 510.4 L996 504.3 L996.5 511.8 L997 502.2 L997.5 511.6 L998 500.5 L998.5 508.9 L999 504.9 L999.5 508.8 L1000 504.7 L1000.5 508.3 L1001 505.1 L1001.5 509.7 L1002 502.6 L1002.5 508.7 L1003 503.2 L1003.5 510 L1004 505.5 L1004.5 509.8 L1005 504.1 L1005.5 508.4 L1006 500.9 L1006.5 508.6 L1007 503.6 L1007.5 510 L1008 501.6 L1008.5 510.2 L1009 504.3 L1009.5 509.3 L1010 505.2 L1010.5 510.7 L1011 503.1 L1011.5 507.6 L1012 505.9 L1012.5 507.7 L1013 505.3 L1013.5 509.7 L1014 503.6 L1014.5 509.4 L1015 505.8 L1015.5 509.1 L1016 504.3 L1016.5 509.3 L1017 501.8 L1017.5 508.1 L1018 504.8 L1018.5 510.9 L1019 501.7 L1019.5 509.9 L1020 505 L1020.5 509.2 L1021 503.6 L1021.5 507.7 L1022 505.2 L1022.5 508 L1023 505.5 L1023.5 508.8 L1024 505.3 L1024.5 508.2 L1025 505.2 L1025.5 510.2 L1026 505.3 L1026.5 510.5 L1027 505 L1027.5 507.9 L1028 502.1 L1028.5 508.2 L1029 502.8 L1029.5 509.8 L1030 503.8 L1030.5 507.5 L1031 505.3 L1031.5 507.4 L1032 504.2 L1032.5 508.9 L1033 504.6 L1033.5 508.4 L1034 504.9 L1034.5 510.5 L1035 504.4 L1035.5 509.3 L1036 505.5 L1036.5 507.9 L1037 505.6 L1037.5 509.4 L1038 504.4 L1038.5 507.9 L1039 503.3 L1039.5 507.9 L1040 505.3 L1040.5 507.4 L1041 505.8 L1041.5 508.6 L1042 505.7 L1042.5 507.4 L1043 505.4 L1043.5 507.8 L1044 503.6 L1044.5 507.7 L1045 502.7 L1045.5 507.7 L1046 503.3 L1046.5 509 L1047 505.6 L1047.5 508.2 L1048 505.6 L1048.5 507.6 L1049 505.9 L1049.5 507.9 L1050 503.2 L1050.5 510.7 L1051 502.4 L1051.5 507.9 L1052 505 L1052.5 510.4 L1053 505.6 L1053.5 509.5 L1054 505.1 L1054.5 510.8 L1055 505.5 L1055.5 510 L1056 505.1 L1056.5 507.6 L1057 506 L1057.5 508.8 L1058 505 L1058.5 507.8 L1059 504.7 L1059.5 510.8 L1060 505.3 L1060.5 508.7 L1061 505.8 L1061.5 507.4 L1062 504.5 L1062.5 509 L1063 505.4 L1063.5 507.8 L1064 505.5 L1064.5 509.2 L1065 504.7 L1065.5 507.9 L1066 505.6 L1066.5 508.7 L1067 504.4 L1067.5 509.2 L1068 504.8 L1068.5 507.7 L1069 505.7 L1069.5 509.3 L1070 504.9 L1070.5 509.5 L1071 505.5 L1071.5 510.3 L1072 504.8 L1072.5 510.2 L1073 503.4 L1073.5 508.4 L1074 505.9 L1074.5 509.2 L1075 505.3 L1075.5 509 L1076 505.7 L1076.5 507.5 L1077 504.2 L1077.5 508 L1078 505.6 L1078.5 508.1 L1079 504.7 L1079.5 507.4 L1080 505.1 L1080.5 508 L1081 505.2 L1081.5 507.4 L1082 504.8 L1082.5 508.7 L1083 504.5 L1083.5 507.6 L1084 504.8 L1084.5 507.8 L1085 504.8 L1085.5 507.3 L1086 504.6 L1086.5 508.9 L1087 505.4 L1087.5 508 L1088 505.2 L1088.5 508.1 L1089 505.9 L1089.5 509.4 L1090 505.7 L1090.5 507.6 L1091 505.8 L1091.5 507.7 L1092 504.2 L1092.5 507.4 L1093 505.8 L1093.5 509.1 L1094 505.4 L1094.5 507.7 L1095 504.1 L1095.5 508.9 L1096 504.7 L1096.5 508.9 L1097 505.8 L1097.5 509.4 L1098 504.3 L1098.5 507.5 L1099 505.6 L1099.5 508.4 L1100 505 L1100.5 507.7 L1101 505.9 L1101.5 507.9 L1102 505.8 L1102.5 508.4 L1103 504 L1103.5 507.5 L1104 505 L1104.5 508.6 L1105 505.9 L1105.5 508.6 L1106 504.2 L1106.5 507.9 L1107 505.2 L1107.5 509.3 L1108 504.9 L1108.5 508 L1109 503.8 L1109.5 509.1 L1110 505.1 L1110.5 508.3 L1111 504.4 L1111.5 509.6 L1112 500.6 L1112.5 511.4 L1113 501.5 L1113.5 511 L1114 502.6 L1114.5 507.8 L1115 504.6 L1115.5 509.9 L1116 503.5 L1116.5 507.9 L1117 505 L1117.5 509 L1118 505 L1118.5 508.9 L1119 505.5 L1119.5 508.8 L1120 504.2 L1120.5 507.7 L1121 505.6 L1121.5 509.5 L1122 504.6 L1122.5 509.5 L1123 504.4 L1123.5 509.9 L1124 502.7 L1124.5 510.3 L1125 505.6 L1125.5 509 L1126 505.4 L1126.5 509 L1127 505.4 L1127.5 508.6 L1128 503.4 L1128.5 509 L1129 505.3 L1129.5 508.9 L1130 504.6 L1130.5 510.8 L1131 505.2 L1131.5 508.1 L1132 504.4 L1132.5 507.6 L1133 504.6 L1133.5 510 L1134 504.8 L1134.5 507.9 L1135 504.8 L1135.5 508.8 L1136 505.5 L1136.5 507.8 L1137 505.4 L1137.5 508.3 L1138 504.5 L1138.5 508.5 L1139 505.1 L1139.5 507.8 L1140 504.6 L1140.5 509.4 L1141 504.5 L1141.5 508.9 L1142 503.8 L1142.5 508.2 L1143 503.1 L1143.5 509.2 L1144 503.7 L1144.5 510 L1145 503.9 L1145.5 508.9 L1146 504.6 L1146.5 508.7 L1147 503.4 L1147.5 509.3 L1148 503.2 L1148.5 508.1 L1149 504.5 L1149.5 511 L1150 505 L1150.5 509.2 L1152.2 516.5 L1154.8 474.4 L1155.9 567.1 L1157.6 436.6 L1159.5 542.3 L1161.3 490.5 L1162.8 560.6 L1166.6 467.9 L1168.4 562.8 L1169.9 462.5 L1172.2 499.1 L1173.2 521.5 L1174.2 524 L1174.2 493.6 L1175.2 524.7 L1175.9 478.7 L1176.2 487.1 L1177.2 508.8 L1179.1 535.8 L1181.2 503.4 L1181.3 486.2 L1182.2 513.5 L1183.2 480.9 L1183.5 530.4 L1184.2 523.6 L1185.2 489.2 L1185.6 485.1 L1186.2 527.1 L1187.2 506.1 L1188.2 518.7 L1188.2 516.4 L1189.2 499.4 L1190.2 521.9 L1190.4 497 L1191.2 503 L1192.2 524.9 L1192.9 530.4 L1194.7 461.4 L1197.2 497.6 L1198.2 525.2 L1199 531.5 L1199.2 501.6 L1200.2 509.8 L1201.2 495.1 L1202.9 456 L1204.4 518.6 L1205.2 525.6 L1206.2 498.4 L1206.5 494.9 L1207.2 518.1 L1208.2 499.5 L1208.7 531.5 L1209.2 509.3 L1210.2 504.4 L1210.8 483 L1211.2 513 L1212.2 492.6 L1213.2 513.9 L1213.6 516.4 L1214.2 483.7 L1215.2 520.8 L1216.2 496.3 L1216.2 480.8 L1218 546.6 L1220.1 436.6 L1222.7 543.4 L1224.9 479.8 L1225.2 511.2 L1227.7 567.1 L1229.6 451.7 L1231.2 506.5 L1231.7 520.7 L1232.2 524.8 L1234.1 457.1 L1235.6 552 L1238.9 470.1 L1240.6 570.3 L1242.5 445.3 L1244.2 492.1 L1244.3 529.3 L1246.4 469 L1249 555.2 L1250.7 469 L1252.4 520.7 L1253.2 518.9 L1254 486.2 L1254.2 503.7 L1255.2 513.4 L1256.1 524 L1256.2 492.9 L1257.2 532.6 L1259.3 477.6 L1261.5 538 L1263.2 486 L1263.7 493.8 L1264.2 531.7 L1265.2 505.1 L1266.2 512.8 L1267.2 503.3 L1268 525 L1268.2 510.2 L1269.2 492.7 L1269.7 499.2 L1270.3 520.7 L1271.2 466.8 L1272.3 527.2 L1273.2 522.1 L1274.2 497.7 L1276.2 466.8 L1277.2 558.4 L1278.7 463.6 L1280.3 552 L1281.5 480.8 L1282.2 507 L1282.6 529.3 L1284.1 471.1 L1286.2 491.4 L1288 606.9 L1291.5 297.6 L1293.2 583.2 L1294.9 529.3 L1296.4 589.7" fill="none" stroke="#000" stroke-width="0.9" stroke-linejoin="miter"/>
<path d="M325.5 506.6 H1149" fill="none" stroke="#c8c800" stroke-width="2.6" stroke-linecap="round"/>
<path d="M1138 506.6 C1139.3 506.6 1143.9 506.7 1146 506.6 C1148.1 506.6 1149.3 505.4 1150.5 506.3 C1151.7 507.2 1152.2 515.4 1153.3 512.1 C1154.4 508.8 1156.1 490.2 1156.9 486.2 C1157.8 482.3 1157.6 482.6 1158.5 488.4 C1159.3 494.1 1160.7 519.1 1161.9 520.7 C1163.1 522.3 1164.4 500.6 1165.6 498.1 C1166.7 495.6 1167.7 504.9 1168.8 505.6 C1169.9 506.3 1171.1 501.3 1172 502.4 C1172.9 503.5 1173.5 512.3 1174.2 512.1 C1174.9 511.9 1175.4 502 1176.3 501.3 C1177.2 500.6 1178.7 507.6 1179.6 507.8 C1180.5 508 1180.8 502.4 1181.7 502.4 C1182.6 502.4 1184.1 507.4 1185 507.8 C1185.9 508.1 1186 503.7 1187.1 504.6 C1188.2 505.4 1190.2 515.9 1191.4 513.2 C1192.7 510.5 1193.5 487.5 1194.7 488.4 C1195.9 489.3 1197.3 517.1 1198.6 518.6 C1199.8 520 1200.9 498.1 1202.2 497 C1203.5 495.9 1205.2 511 1206.5 512.1 C1207.9 513.2 1209.1 504.6 1210.2 503.5 C1211.3 502.4 1211.9 503.1 1213 505.6 C1214.1 508.1 1215.6 520.5 1216.9 518.6 C1218.1 516.6 1219.4 495.6 1220.5 493.8 C1221.7 492 1223 506.5 1223.8 507.8 C1224.6 509 1224.6 499.9 1225.3 501.3 C1226 502.8 1227.3 516.4 1228.1 516.4 C1228.9 516.4 1229.3 502.4 1230.2 501.3 C1231.1 500.2 1232.5 509.9 1233.5 509.9 C1234.4 509.9 1235 500.6 1236.1 501.3 C1237.1 502 1238.8 514.1 1239.9 514.3 C1241.1 514.4 1242.3 504.2 1243.2 502.4 C1244.1 500.6 1244.4 501.1 1245.3 503.5 C1246.2 505.8 1247.4 517.1 1248.6 516.4 C1249.7 515.7 1251.4 500.6 1252.4 499.2 C1253.5 497.7 1254.2 507.1 1255 507.8 C1255.9 508.5 1256.5 502.8 1257.6 503.5 C1258.8 504.2 1260.6 512.6 1261.9 512.1 C1263.2 511.6 1264.2 500.6 1265.4 500.2 C1266.6 499.9 1268 509.6 1269 509.9 C1270.1 510.3 1270.9 503.1 1271.8 502.4 C1272.7 501.7 1273.6 505.6 1274.4 505.6 C1275.2 505.6 1275.6 501.3 1276.6 502.4 C1277.6 503.5 1279.1 513.4 1280.3 512.1 C1281.4 510.8 1282.6 493.4 1283.5 494.9 C1284.4 496.3 1284.9 508.1 1285.6 520.7 C1286.4 533.3 1287 571 1287.8 570.3 C1288.6 569.6 1289.9 527.2 1290.6 516.4 C1291.3 505.6 1291.2 506.7 1292.1 505.6 C1293 504.6 1295.3 509.2 1296 509.9" fill="none" stroke="#c8c800" stroke-width="2.6" stroke-linejoin="round" stroke-linecap="round"/>
<path d="M357.9 314.2 C358.7 316.3 361.1 322.2 363 326.5 C364.9 330.8 367.1 336.4 369.2 339.8 C371.2 343.2 373.6 345.5 375.3 347 C377 348.5 377 349 379.4 348.6 C381.8 348.3 385.9 346.2 389.6 344.9 C393.4 343.7 398.5 342.4 401.9 341.3 C405.3 340.1 407.9 338.5 410.1 337.8 C412.3 337.1 413.5 336.8 415.2 337 C416.9 337.1 418.5 337.2 420.4 338.4 C422.2 339.5 424.1 340.1 426.5 343.9 C428.9 347.7 432 355 434.7 361.3 C437.4 367.6 440.2 375.8 442.9 381.8 C445.6 387.8 448.8 394 451.1 397.2 C453.4 400.4 454.9 401.1 456.6 401.1 C458.3 401.1 459.5 401.1 461.3 397.2 C463.1 393.3 465.4 385.4 467.5 377.7 C469.5 370 471.6 360.3 473.6 351.1 C475.7 341.9 478.1 329.7 479.8 322.4 C481.5 315.1 482.3 312.3 483.9 307 C485.4 301.8 487.3 294.8 489 290.7 C490.7 286.6 492.4 284.1 494.1 282.5 C495.8 280.8 497.5 280.5 499.2 280.6 C500.9 280.8 502.6 281.3 504.3 283.5 C506 285.7 507.8 289 509.5 293.7 C511.2 298.5 512.9 306.4 514.6 312.2 C516.3 318 518 324.2 519.7 328.6 C521.4 332.9 523.5 336.5 524.8 338.4 C526.2 340.3 526.5 340.1 527.9 339.8 C529.3 339.5 531.1 339.1 533 336.7 C534.9 334.4 537.3 328.9 539.2 325.5 C541 322.1 542.7 318.2 544.3 316.3 C545.8 314.3 546.8 313.6 548.4 313.8 C549.9 314 551.6 314.7 553.5 317.3 C555.4 319.9 557.6 325.5 559.6 329.6 C561.7 333.7 563.6 338.9 565.8 341.9 C568 344.8 570.7 347.1 573 347.4 C575.2 347.7 576.9 345.2 579.1 343.9 C581.3 342.7 584 339.6 586.3 339.8 C588.5 340 590.2 342 592.4 344.9 C594.6 347.8 597.3 354.2 599.6 357.2 C601.9 360.2 604.3 362.6 606.3 363 C608.4 363.3 609.8 362.5 611.9 359.3 C614 356.1 616.6 348.5 619 343.9 C621.4 339.3 624.2 334.3 626.2 331.6 C628.3 329 629.4 327.9 631.3 327.9 C633.2 327.9 635.1 329.6 637.5 331.6 C639.9 333.6 643.3 337.9 645.7 339.8 C648.1 341.7 651.1 342.4 651.8 342.9 C652.5 343.4 649.4 343 650 342.9 C650.6 342.8 653.1 343.5 655.1 342.5 C657.2 341.5 659.7 338.7 662.3 336.7 C664.8 334.8 667.8 332.7 670.5 330.6 C673.2 328.5 676.1 327.1 678.7 324 C681.2 321 683.6 315.9 685.8 312.2 C688.1 308.5 690.1 304.1 692 301.9 C693.9 299.7 695.4 298.9 697.1 299.1 C698.8 299.2 700.5 300.1 702.2 303 C703.9 305.8 705.6 310.6 707.3 316.3 C709.1 321.9 710.6 330.1 712.5 336.7 C714.3 343.4 716.6 351.7 718.6 356.2 C720.7 360.7 723.1 363.3 724.8 364 C726.5 364.7 727.1 363.5 728.9 360.3 C730.6 357.1 733 349.7 735 344.9 C737 340.2 739.3 334.8 741.1 331.6 C743 328.5 744.9 327.2 746.3 326.1 C747.6 325 748 324.9 749.3 325.3 C750.7 325.7 751.9 326 754.5 328.6 C757 331.1 761.3 336.9 764.7 340.8 C768.1 344.8 771.5 349.2 774.9 352.1 C778.4 355 782.1 357 785.2 358.3 C788.3 359.5 790.6 359.8 793.4 359.7 C796.1 359.6 798.5 358.9 801.6 357.6 C804.6 356.4 808.4 353.5 811.8 352.1 C815.2 350.7 819 349.5 822 349 C825.1 348.5 827.2 348.6 830.2 349 C833.3 349.4 837.1 350.1 840.5 351.5 C843.9 352.9 847 355.5 850.7 357.6 C854.5 359.8 858.9 362.7 863 364.4 C867.1 366.1 871.5 366.2 875.3 367.9 C879.1 369.6 882.6 372.9 885.5 374.6 C888.4 376.3 890.7 377.6 892.7 378.1 C894.8 378.6 896 379.5 897.8 377.7 C899.7 375.9 901.9 371.6 904 367.5 C906 363.4 908.1 357.9 910.1 353.1 C912.2 348.4 914 343.4 916.3 338.8 C918.5 334.2 921 328.9 923.4 325.5 C925.8 322.1 928.2 319.9 930.6 318.3 C933 316.7 935.6 315.7 937.8 315.9 C940 316 941.9 316.2 943.9 319.3 C946 322.5 948 328.4 950.1 334.7 C952.1 341 954.2 350.1 956.2 357.2 C958.3 364.4 960.5 372.9 962.3 377.7 C964.2 382.5 965.9 384.5 967.5 385.9 C969 387.3 969.9 387.7 971.6 386.3 C973.3 384.9 975.7 381.9 977.7 377.7 C979.8 373.5 982.6 364.7 983.9 361.3 C985.1 357.9 983.9 359.3 985.1 357.2 C986.4 355.1 989 350.4 991.3 348.6 C993.5 346.8 995.9 346 998.4 346.4 C1001 346.8 1003.6 348.4 1006.6 351.1 C1009.7 353.7 1014 359.4 1016.9 362.3 C1019.8 365.3 1021.8 367.5 1024 368.5 C1026.3 369.5 1028.1 370 1030.2 368.5 C1032.2 367 1034.1 363.2 1036.3 359.3 C1038.5 355.4 1041.3 348.5 1043.5 344.9 C1045.7 341.4 1047.9 339.1 1049.6 337.8 C1051.3 336.5 1052 336.1 1053.7 337.2 C1055.4 338.2 1057.7 340.7 1059.9 343.9 C1062.1 347.1 1064.8 353.4 1067 356.2 C1069.3 359 1071.3 360.5 1073.2 360.7 C1075.1 360.9 1076.6 359.9 1078.3 357.6 C1080 355.4 1081.6 351.8 1083.4 347 C1085.3 342.1 1087.5 334.7 1089.6 328.6 C1091.6 322.4 1093.7 315.6 1095.7 310.1 C1097.8 304.7 1099.6 300.2 1101.9 295.8 C1104.1 291.3 1106.8 287.4 1109 283.5 C1111.3 279.6 1113.3 275.1 1115.2 272.2 C1117.1 269.3 1118.8 267.3 1120.3 266.1 C1121.8 264.9 1122.9 264.5 1124.4 265.1 C1125.9 265.6 1127.6 265.7 1129.5 269.2 C1131.4 272.6 1133.6 279.4 1135.7 285.5 C1137.7 291.7 1139.8 299.7 1141.8 306 C1143.9 312.3 1145.9 318.7 1148 323.4 C1150 328.2 1152 332 1154.1 334.7 C1156.1 337.4 1158.2 338.6 1160.2 339.4 C1162.3 340.2 1164.3 338.8 1166.4 339.4 C1168.4 340 1170.5 340.6 1172.5 342.9 C1174.6 345.2 1176.6 349 1178.7 353.1 C1180.7 357.2 1182.4 362.2 1184.8 367.5 C1187.2 372.8 1190.5 380.3 1193 384.9 C1195.6 389.5 1198 392.9 1200.2 395.1 C1202.4 397.3 1204.3 398.2 1206.3 398.2 C1208.4 398.2 1210.4 397.7 1212.5 395.1 C1214.5 392.6 1216.6 388.5 1218.6 382.8 C1220.7 377.2 1222.7 369.3 1224.8 361.3 C1226.8 353.3 1228.9 342.4 1230.9 334.7 C1233 327 1235.3 319.5 1237 315.2 C1238.8 311 1239.9 310.3 1241.1 309.1 C1242.3 307.9 1243 307.6 1244.2 308.1 C1245.4 308.6 1246.6 309.1 1248.3 312.2 C1250 315.2 1252.6 322.4 1254.5 326.5 C1256.3 330.6 1258 334.3 1259.6 336.7 C1261.1 339.2 1263 340.7 1263.7 341.5" fill="none" stroke="#00c8c8" stroke-width="2.5" stroke-linejoin="round" stroke-linecap="round"/>
<path d="M331.5 244 L332.5 244 L333.5 244 L334.5 244 L335.5 244.8 L336.5 242.4 L337.5 244 L338.5 244 L339.5 244 L340.5 244 L341.5 244.8 L342.5 242.4 L343.5 244 L344.5 243.2 L345.5 243.2 L346.5 243.2 L347.5 243.2 L348.5 244 L349.5 243.2 L350.5 243.2 L351.5 243.2 L352.5 243.2 L353.5 243.2 L354.5 244 L355.5 244 L356.5 244 L357.5 244 L358.5 244 L359.5 244 L360.5 242.4 L361.5 244 L362.5 244 L363.5 243.2 L364.5 242.4 L365.5 244 L366.5 244 L367.5 244 L368.5 243.2 L369.5 243.2 L370.5 243.2 L371.5 243.2 L372.5 243.2 L373.5 243.2 L374.5 243.2 L375.5 243.2 L376.5 242.4 L377.5 242.4 L378.5 243.2 L379.5 243.2 L380.5 243.2 L381.5 243.2 L382.5 243.2 L383.5 244 L384.5 244 L385.5 244 L386.5 245.6 L387.5 244 L388.5 244.8 L389.5 244 L390.5 243.2 L391.5 244 L392.5 243.2 L393.5 243.2 L394.5 243.2 L395.5 243.2 L396.5 243.2 L397.5 244 L398.5 244.8 L399.5 244.8 L400.5 244.8 L401.5 243.2 L402.5 244 L403.5 244.8 L404.5 244.8 L405.5 245.6 L406.5 244.8 L407.5 244 L408.5 244 L409.5 244 L410.5 244 L411.5 244.8 L412.5 244 L413.5 246.4 L414.5 244.8 L415.5 244.8 L416.5 244.8 L417.5 244.8 L418.5 245.6 L419.5 244 L420.5 244 L421.5 244 L422.5 244 L423.5 244 L424.5 243.2 L425.5 244 L426.5 244.8 L427.5 244.8 L428.5 244.8 L429.5 244.8 L430.5 245.6 L431.5 246.4 L432.5 246.4 L433.5 245.6 L434.5 246.4 L435.5 244.8 L436.5 244.8 L437.5 244.8 L438.5 244.8 L439.5 244 L440.5 244.8 L441.5 245.6 L442.5 245.6 L443.5 245.6 L444.5 247.2 L445.5 246.4 L446.5 246.4 L447.5 246.4 L448.5 246.4 L449.5 247.2 L450.5 247.2 L451.5 248 L452.5 247.2 L453.5 247.2 L454.5 246.4 L455.5 248.8 L456.5 247.2 L457.5 247.2 L458.5 247.2 L459.5 248 L460.5 248.8 L461.5 248.8 L462.5 249.6 L463.5 249.6 L464.5 250.4 L465.5 250.4 L466.5 250.4 L467.5 249.6 L468.5 250.4 L469.5 250.4 L470.5 250.4 L471.5 250.4 L472.5 249.6 L473.5 249.6 L474.5 249.6 L475.5 248.8 L476.5 248.8 L477.5 246.4 L478.5 248.8 L479.5 249.6 L480.5 247.2 L481.5 248.8 L482.5 248.8 L483.5 249.6 L484.5 248.8 L485.5 248 L486.5 248.8 L487.5 248.8 L488.5 248.8 L489.5 249.6 L490.5 248.8 L491.5 250.4 L492.5 248 L493.5 247.2 L494.5 247.2 L495.5 247.2 L496.5 246.4 L497.5 248 L498.5 247.2 L499.5 246.4 L500.5 246.4 L501.5 246.4 L502.5 247.2 L503.5 247.2 L504.5 248 L505.5 248 L506.5 248 L507.5 248 L508.5 248.8 L509.5 248.8 L510.5 248 L511.5 248 L512.5 247.2 L513.5 247.2 L514.5 247.2 L515.5 248 L516.5 248 L517.5 247.2 L518.5 247.2 L519.5 248 L520.5 248 L521.5 248 L522.5 248 L523.5 248 L524.5 248.8 L525.5 249.6 L526.5 249.6 L527.5 249.6 L528.5 249.6 L529.5 250.4 L530.5 248.8 L531.5 248.8 L532.5 248.8 L533.5 248 L534.5 248 L535.5 248 L536.5 248 L537.5 248 L538.5 247.2 L539.5 248 L540.5 248.8 L541.5 248 L542.5 248 L543.5 248.8 L544.5 248.8 L545.5 250.4 L546.5 250.4 L547.5 252.8 L548.5 250.4 L549.5 250.4 L550.5 249.6 L551.5 249.6 L552.5 249.6 L553.5 249.6 L554.5 250.4 L555.5 250.4 L556.5 249.6 L557.5 249.6 L558.5 249.6 L559.5 249.6 L560.5 250.4 L561.5 250.4 L562.5 251.2 L563.5 248.8 L564.5 248.8 L565.5 247.2 L566.5 248.8 L567.5 248 L568.5 248 L569.5 248 L570.5 248 L571.5 248 L572.5 247.2 L573.5 247.2 L574.5 249.6 L575.5 248.8 L576.5 248 L577.5 248.8 L578.5 248 L579.5 248 L580.5 248 L581.5 248.8 L582.5 248 L583.5 248 L584.5 248 L585.5 248.8 L586.5 248.8 L587.5 248.8 L588.5 248.8 L589.5 249.6 L590.5 249.6 L591.5 249.6 L592.5 249.6 L593.5 248.8 L594.5 249.6 L595.5 249.6 L596.5 249.6 L597.5 248 L598.5 250.4 L599.5 250.4 L600.5 250.4 L601.5 250.4 L602.5 251.2 L603.5 251.2 L604.5 251.2 L605.5 251.2 L606.5 251.2 L607.5 253.6 L608.5 252.8 L609.5 252 L610.5 252 L611.5 252 L612.5 252 L613.5 252 L614.5 252 L615.5 252.8 L616.5 252.8 L617.5 252 L618.5 252.8 L619.5 252.8 L620.5 252.8 L621.5 252.8 L622.5 253.6 L623.5 253.6 L624.5 253.6 L625.5 253.6 L626.5 252.8 L627.5 252.8 L628.5 254.4 L629.5 252.8 L630.5 252.8 L631.5 252 L632.5 252 L633.5 252.8 L634.5 252 L635.5 252.8 L636.5 252.8 L637.5 252 L638.5 252 L639.5 252.8 L640.5 252 L641.5 252 L642.5 251.2 L643.5 252 L644.5 253.6 L645.5 252.8 L646.5 252.8 L647.5 252.8 L648.5 252.8 L649.5 252.8 L650.5 253.6 L651.5 253.6 L652.5 253.6 L653.5 253.6 L654.5 253.6 L655.5 253.6 L656.5 252.8 L657.5 252.8 L658.5 252.8 L659.5 252.8 L660.5 252.8 L661.5 252.8 L662.5 252.8 L663.5 252.8 L664.5 253.6 L665.5 253.6 L666.5 255.2 L667.5 253.6 L668.5 253.6 L669.5 253.6 L670.5 253.6 L671.5 252.8 L672.5 253.6 L673.5 253.6 L674.5 253.6 L675.5 254.4 L676.5 252.8 L677.5 253.6 L678.5 251.2 L679.5 253.6 L680.5 254.4 L681.5 253.6 L682.5 253.6 L683.5 253.6 L684.5 254.4 L685.5 254.4 L686.5 253.6 L687.5 255.2 L688.5 255.2 L689.5 254.4 L690.5 254.4 L691.5 254.4 L692.5 254.4 L693.5 254.4 L694.5 254.4 L695.5 254.4 L696.5 255.2 L697.5 255.2 L698.5 254.4 L699.5 254.4 L700.5 254.4 L701.5 252.8 L702.5 256 L703.5 253.6 L704.5 253.6 L705.5 252.8 L706.5 252.8 L707.5 252.8 L708.5 252.8 L709.5 254.4 L710.5 252.8 L711.5 252.8 L712.5 253.6 L713.5 252.8 L714.5 252.8 L715.5 252.8 L716.5 252.8 L717.5 253.6 L718.5 254.4 L719.5 253.6 L720.5 253.6 L721.5 253.6 L722.5 253.6 L723.5 255.2 L724.5 253.6 L725.5 253.6 L726.5 253.6 L727.5 253.6 L728.5 253.6 L729.5 253.6 L730.5 253.6 L731.5 254.4 L732.5 254.4 L733.5 254.4 L734.5 254.4 L735.5 254.4 L736.5 253.6 L737.5 255.2 L738.5 254.4 L739.5 254.4 L740.5 254.4 L741.5 254.4 L742.5 254.4 L743.5 254.4 L744.5 255.2 L745.5 255.2 L746.5 255.2 L747.5 255.2 L748.5 254.4 L749.5 255.2 L750.5 254.4 L751.5 255.2 L752.5 255.2 L753.5 254.4 L754.5 256.8 L755.5 254.4 L756.5 254.4 L757.5 255.2 L758.5 255.2 L759.5 256 L760.5 255.2 L761.5 255.2 L762.5 255.2 L763.5 255.2 L764.5 256 L765.5 255.2 L766.5 254.4 L767.5 255.2 L768.5 253.6 L769.5 256 L770.5 256 L771.5 256.8 L772.5 256.8 L773.5 257.6 L774.5 257.6 L775.5 258.4 L776.5 258.4 L777.5 257.6 L778.5 256.8 L779.5 256.8 L780.5 256.8 L781.5 257.6 L782.5 259.2 L783.5 256.8 L784.5 256 L785.5 256 L786.5 256.8 L787.5 257.6 L788.5 256.8 L789.5 256 L790.5 256.8 L791.5 256 L792.5 256 L793.5 256 L794.5 256.8 L795.5 257.6 L796.5 257.6 L797.5 258.4 L798.5 258.4 L799.5 258.4 L800.5 258.4 L801.5 258.4 L802.5 258.4 L803.5 257.6 L804.5 256 L805.5 257.6 L806.5 256.8 L807.5 257.6 L808.5 259.2 L809.5 257.6 L810.5 258.4 L811.5 258.4 L812.5 259.2 L813.5 259.2 L814.5 260 L815.5 260 L816.5 260 L817.5 259.2 L818.5 259.2 L819.5 258.4 L820.5 258.4 L821.5 259.2 L822.5 260 L823.5 259.2 L824.5 259.2 L825.5 260 L826.5 258.4 L827.5 257.6 L828.5 257.6 L829.5 258.4 L830.5 257.6 L831.5 257.6 L832.5 256 L833.5 258.4 L834.5 258.4 L835.5 258.4 L836.5 259.2 L837.5 259.2 L838.5 257.6 L839.5 257.6 L840.5 259.2 L841.5 256.8 L842.5 259.2 L843.5 259.2 L844.5 259.2 L845.5 259.2 L846.5 260 L847.5 260 L848.5 260 L849.5 261.6 L850.5 260.8 L851.5 260.8 L852.5 260.8 L853.5 260.8 L854.5 259.2 L855.5 260.8 L856.5 260 L857.5 260 L858.5 261.6 L859.5 260.8 L860.5 260.8 L861.5 260.8 L862.5 261.6 L863.5 264 L864.5 259.2 L865.5 260.8 L866.5 260.8 L867.5 262.4 L868.5 262.4 L869.5 262.4 L870.5 262.4 L871.5 262.4 L872.5 262.4 L873.5 262.4 L874.5 262.4 L875.5 262.4 L876.5 262.4 L877.5 262.4 L878.5 262.4 L879.5 261.6 L880.5 263.2 L881.5 261.6 L882.5 261.6 L883.5 261.6 L884.5 264 L885.5 262.4 L886.5 261.6 L887.5 261.6 L888.5 261.6 L889.5 260.8 L890.5 260.8 L891.5 260.8 L892.5 260.8 L893.5 261.6 L894.5 261.6 L895.5 262.4 L896.5 262.4 L897.5 262.4 L898.5 261.6 L899.5 264 L900.5 261.6 L901.5 261.6 L902.5 261.6 L903.5 262.4 L904.5 262.4 L905.5 262.4 L906.5 264.8 L907.5 264 L908.5 262.4 L909.5 262.4 L910.5 262.4 L911.5 262.4 L912.5 262.4 L913.5 262.4 L914.5 262.4 L915.5 262.4 L916.5 262.4 L917.5 261.6 L918.5 262.4 L919.5 263.2 L920.5 261.6 L921.5 262.4 L922.5 263.2 L923.5 263.2 L924.5 261.6 L925.5 262.4 L926.5 262.4 L927.5 261.6 L928.5 262.4 L929.5 262.4 L930.5 263.2 L931.5 264.8 L932.5 263.2 L933.5 264 L934.5 264 L935.5 264 L936.5 264 L937.5 263.2 L938.5 263.2 L939.5 264 L940.5 264 L941.5 264.8 L942.5 264 L943.5 263.2 L944.5 263.2 L945.5 263.2 L946.5 263.2 L947.5 264 L948.5 264 L949.5 264.8 L950.5 264.8 L951.5 266.4 L952.5 264 L953.5 264 L954.5 264 L955.5 264 L956.5 263.2 L957.5 263.2 L958.5 263.2 L959.5 263.2 L960.5 263.2 L961.5 263.2 L962.5 264 L963.5 264 L964.5 264 L965.5 264 L966.5 264 L967.5 264 L968.5 264 L969.5 264 L970.5 264.8 L971.5 264 L972.5 264 L973.5 265.6 L974.5 265.6 L975.5 263.2 L976.5 265.6 L977.5 265.6 L978.5 265.6 L979.5 265.6 L980.5 264.8 L981.5 264.8 L982.5 264.8 L983.5 264.8 L984.5 265.6 L985.5 266.4 L986.5 267.2 L987.5 266.4 L988.5 266.4 L989.5 266.4 L990.5 267.2 L991.5 266.4 L992.5 266.4 L993.5 266.4 L994.5 267.2 L995.5 268 L996.5 268 L997.5 268.8 L998.5 268 L999.5 267.2 L1000.5 267.2 L1001.5 267.2 L1002.5 268 L1003.5 267.2 L1004.5 267.2 L1005.5 265.6 L1006.5 267.2 L1007.5 267.2 L1008.5 268 L1009.5 267.2 L1010.5 267.2 L1011.5 267.2 L1012.5 268 L1013.5 267.2 L1014.5 268.8 L1015.5 268.8 L1016.5 268.8 L1017.5 269.6 L1018.5 268.8 L1019.5 268.8 L1020.5 269.6 L1021.5 268 L1022.5 269.6 L1023.5 268.8 L1024.5 268.8 L1025.5 268.8 L1026.5 268 L1027.5 268.8 L1028.5 268.8 L1029.5 268.8 L1030.5 268 L1031.5 268 L1032.5 268.8 L1033.5 268.8 L1034.5 268 L1035.5 268 L1036.5 268 L1037.5 268 L1038.5 267.2 L1039.5 268 L1040.5 266.4 L1041.5 268 L1042.5 268 L1043.5 267.2 L1044.5 267.2 L1045.5 268 L1046.5 268 L1047.5 268 L1048.5 268 L1049.5 268 L1050.5 268.8 L1051.5 268.8 L1052.5 268.8 L1053.5 269.6 L1054.5 268.8 L1055.5 268.8 L1056.5 269.6 L1057.5 269.6 L1058.5 269.6 L1059.5 268.8 L1060.5 268.8 L1061.5 269.6 L1062.5 269.6 L1063.5 268 L1064.5 267.2 L1065.5 268.8 L1066.5 269.6 L1067.5 269.6 L1068.5 269.6 L1069.5 269.6 L1070.5 269.6 L1071.5 268.8 L1072.5 269.6 L1073.5 270.4 L1074.5 269.6 L1075.5 269.6 L1076.5 269.6 L1077.5 270.4 L1078.5 270.4 L1079.5 270.4 L1080.5 270.4 L1081.5 269.6 L1082.5 267.2 L1083.5 267.2 L1084.5 268 L1085.5 270.4 L1086.5 271.2 L1087.5 270.4 L1088.5 270.4 L1089.5 270.4 L1090.5 270.4 L1091.5 270.4 L1092.5 271.2 L1093.5 269.6 L1094.5 270.4 L1095.5 270.4 L1096.5 270.4 L1097.5 270.4 L1098.5 270.4 L1099.5 270.4 L1100.5 271.2 L1101.5 270.4 L1102.5 269.6 L1103.5 269.6 L1104.5 269.6 L1105.5 269.6 L1106.5 269.6 L1107.5 270.4 L1108.5 270.4 L1109.5 269.6 L1110.5 269.6 L1111.5 270.4 L1112.5 270.4 L1113.5 270.4 L1114.5 270.4 L1115.5 270.4 L1116.5 270.4 L1117.5 268 L1118.5 270.4 L1119.5 272 L1120.5 270.4 L1121.5 270.4 L1122.5 270.4 L1123.5 271.2 L1124.5 271.2 L1125.5 271.2 L1126.5 271.2 L1127.5 270.4 L1128.5 270.4 L1129.5 270.4 L1130.5 270.4 L1131.5 270.4 L1132.5 270.4 L1133.5 270.4 L1134.5 270.4 L1135.5 269.6 L1136.5 270.4 L1137.5 270.4 L1138.5 270.4 L1139.5 269.6 L1140.5 268.8 L1141.5 267.2 L1142.5 268 L1143.5 268.8 L1144.5 268 L1145.5 268.8 L1146.5 268.8 L1147.5 268.8 L1148.5 268.8 L1149.5 269.6 L1150.5 269.6 L1151.5 268.8 L1152.5 268.8 L1153.5 268.8 L1154.5 267.2 L1155.5 268.8 L1156.5 268.8 L1157.5 268.8 L1158.5 268.8 L1159.5 268 L1160.5 268.8 L1161.5 268.8 L1162.5 268.8 L1163.5 268.8 L1164.5 268.8 L1165.5 268.8 L1166.5 268.8 L1167.5 268.8 L1168.5 269.6 L1169.5 269.6 L1170.5 269.6 L1171.5 271.2 L1172.5 270.4 L1173.5 269.6 L1174.5 270.4 L1175.5 270.4 L1176.5 270.4 L1177.5 271.2 L1178.5 270.4 L1179.5 270.4 L1180.5 270.4 L1181.5 270.4 L1182.5 271.2 L1183.5 270.4 L1184.5 271.2 L1185.5 271.2 L1186.5 271.2 L1187.5 272.8 L1188.5 271.2 L1189.5 271.2 L1190.5 271.2 L1191.5 271.2 L1192.5 271.2 L1193.5 271.2 L1194.5 272 L1195.5 272 L1196.5 272 L1197.5 272 L1198.5 272 L1199.5 271.2 L1200.5 271.2 L1201.5 272 L1202.5 272.8 L1203.5 272.8 L1204.5 275.2 L1205.5 273.6 L1206.5 273.6 L1207.5 273.6 L1208.5 273.6 L1209.5 273.6 L1210.5 274.4 L1211.5 273.6 L1212.5 273.6 L1213.5 271.2 L1214.5 272.8 L1215.5 273.6 L1216.5 273.6 L1217.5 273.6 L1218.5 273.6 L1219.5 276 L1220.5 271.2 L1221.5 273.6 L1222.5 274.4 L1223.5 272.8 L1224.5 276 L1225.5 274.4 L1226.5 274.4 L1227.5 275.2 L1228.5 275.2 L1229.5 276 L1230.5 277.6 L1231.5 277.6 L1232.5 276.8 L1233.5 276.8 L1234.5 276.8 L1235.5 276.8 L1236.5 276 L1237.5 276 L1238.5 276 L1239.5 276 L1240.5 276 L1241.5 276 L1242.5 276 L1243.5 276.8 L1244.5 276 L1245.5 276 L1246.5 276 L1247.5 276 L1248.5 275.2 L1249.5 275.2 L1250.5 275.2 L1251.5 276 L1252.5 276 L1253.5 276 L1254.5 275.2 L1255.5 276 L1256.5 275.2 L1257.5 275.2 L1258.5 276 L1259.5 276 L1260.5 277.6 L1261.5 276 L1262.5 276 L1263.5 276 L1264.5 274.4 L1265.5 275.2 L1266.5 276.8 L1267.5 275.2 L1268.5 274.4 L1269.5 274.4 L1270.5 273.6 L1271.5 275.2 L1272.5 275.2 L1273.5 275.2 L1274.5 275.2 L1275.5 276 L1276.5 276 L1277.5 275.2 L1278.5 275.2 L1279.5 274.4 L1280.5 275.2 L1281.5 274.4 L1282.5 275.2 L1283.5 275.2 L1284.5 274.4 L1285.5 275.2 L1286.5 276 L1287.5 276 L1288.5 276 L1289.5 275.2 L1290.5 276 L1291.5 276.8 L1292.5 276.8 L1293.5 277.6 L1294.5 277.6 L1295.5 276.8 L1296.5 276.8 L1297.5 276.8 L1298.5 276.8 L1299.5 277.6 L1300.5 274.4 L1301.5 276.8 L1302.5 276.8 L1303.5 276.8" fill="none" stroke="#0000ff" stroke-width="4.1" stroke-linejoin="round" stroke-linecap="round"/>
<circle cx="451.5" cy="254.5" r="1.6" fill="#0000ff"/>
<path d="M204.5 503.8 H219 M204.5 509.8 H219 M211.6 503.8 V509.8" stroke="#bcbcbc" stroke-width="1.7" fill="none"/>
<circle cx="211.6" cy="506.8" r="4" fill="#000"/>
<rect x="163.5" y="110.8" width="1296" height="791.7" fill="none" stroke="#000" stroke-width="2.3"/>
<path d="M163.5 902.5 v10.8 M163.5 110.8 v-10.8 M179.7 902.5 v5.5 M179.7 110.8 v-5.5 M195.9 902.5 v5.5 M195.9 110.8 v-5.5 M212.1 902.5 v5.5 M212.1 110.8 v-5.5 M228.3 902.5 v5.5 M228.3 110.8 v-5.5 M244.5 902.5 v5.5 M244.5 110.8 v-5.5 M260.7 902.5 v5.5 M260.7 110.8 v-5.5 M276.9 902.5 v5.5 M276.9 110.8 v-5.5 M293.1 902.5 v5.5 M293.1 110.8 v-5.5 M309.3 902.5 v5.5 M309.3 110.8 v-5.5 M325.5 902.5 v10.8 M325.5 110.8 v-10.8 M341.7 902.5 v5.5 M341.7 110.8 v-5.5 M357.9 902.5 v5.5 M357.9 110.8 v-5.5 M374.1 902.5 v5.5 M374.1 110.8 v-5.5 M390.3 902.5 v5.5 M390.3 110.8 v-5.5 M406.5 902.5 v5.5 M406.5 110.8 v-5.5 M422.7 902.5 v5.5 M422.7 110.8 v-5.5 M438.9 902.5 v5.5 M438.9 110.8 v-5.5 M455.1 902.5 v5.5 M455.1 110.8 v-5.5 M471.3 902.5 v5.5 M471.3 110.8 v-5.5 M487.5 902.5 v10.8 M487.5 110.8 v-10.8 M503.7 902.5 v5.5 M503.7 110.8 v-5.5 M519.9 902.5 v5.5 M519.9 110.8 v-5.5 M536.1 902.5 v5.5 M536.1 110.8 v-5.5 M552.3 902.5 v5.5 M552.3 110.8 v-5.5 M568.5 902.5 v5.5 M568.5 110.8 v-5.5 M584.7 902.5 v5.5 M584.7 110.8 v-5.5 M600.9 902.5 v5.5 M600.9 110.8 v-5.5 M617.1 902.5 v5.5 M617.1 110.8 v-5.5 M633.3 902.5 v5.5 M633.3 110.8 v-5.5 M649.5 902.5 v10.8 M649.5 110.8 v-10.8 M665.7 902.5 v5.5 M665.7 110.8 v-5.5 M681.9 902.5 v5.5 M681.9 110.8 v-5.5 M698.1 902.5 v5.5 M698.1 110.8 v-5.5 M714.3 902.5 v5.5 M714.3 110.8 v-5.5 M730.5 902.5 v5.5 M730.5 110.8 v-5.5 M746.7 902.5 v5.5 M746.7 110.8 v-5.5 M762.9 902.5 v5.5 M762.9 110.8 v-5.5 M779.1 902.5 v5.5 M779.1 110.8 v-5.5 M795.3 902.5 v5.5 M795.3 110.8 v-5.5 M811.5 902.5 v10.8 M811.5 110.8 v-10.8 M827.7 902.5 v5.5 M827.7 110.8 v-5.5 M843.9 902.5 v5.5 M843.9 110.8 v-5.5 M860.1 902.5 v5.5 M860.1 110.8 v-5.5 M876.3 902.5 v5.5 M876.3 110.8 v-5.5 M892.5 902.5 v5.5 M892.5 110.8 v-5.5 M908.7 902.5 v5.5 M908.7 110.8 v-5.5 M924.9 902.5 v5.5 M924.9 110.8 v-5.5 M941.1 902.5 v5.5 M941.1 110.8 v-5.5 M957.3 902.5 v5.5 M957.3 110.8 v-5.5 M973.5 902.5 v10.8 M973.5 110.8 v-10.8 M989.7 902.5 v5.5 M989.7 110.8 v-5.5 M1005.9 902.5 v5.5 M1005.9 110.8 v-5.5 M1022.1 902.5 v5.5 M1022.1 110.8 v-5.5 M1038.3 902.5 v5.5 M1038.3 110.8 v-5.5 M1054.5 902.5 v5.5 M1054.5 110.8 v-5.5 M1070.7 902.5 v5.5 M1070.7 110.8 v-5.5 M1086.9 902.5 v5.5 M1086.9 110.8 v-5.5 M1103.1 902.5 v5.5 M1103.1 110.8 v-5.5 M1119.3 902.5 v5.5 M1119.3 110.8 v-5.5 M1135.5 902.5 v10.8 M1135.5 110.8 v-10.8 M1151.7 902.5 v5.5 M1151.7 110.8 v-5.5 M1167.9 902.5 v5.5 M1167.9 110.8 v-5.5 M1184.1 902.5 v5.5 M1184.1 110.8 v-5.5 M1200.3 902.5 v5.5 M1200.3 110.8 v-5.5 M1216.5 902.5 v5.5 M1216.5 110.8 v-5.5 M1232.7 902.5 v5.5 M1232.7 110.8 v-5.5 M1248.9 902.5 v5.5 M1248.9 110.8 v-5.5 M1265.1 902.5 v5.5 M1265.1 110.8 v-5.5 M1281.3 902.5 v5.5 M1281.3 110.8 v-5.5 M1297.5 902.5 v10.8 M1297.5 110.8 v-10.8 M1313.7 902.5 v5.5 M1313.7 110.8 v-5.5 M1329.9 902.5 v5.5 M1329.9 110.8 v-5.5 M1346.1 902.5 v5.5 M1346.1 110.8 v-5.5 M1362.3 902.5 v5.5 M1362.3 110.8 v-5.5 M1378.5 902.5 v5.5 M1378.5 110.8 v-5.5 M1394.7 902.5 v5.5 M1394.7 110.8 v-5.5 M1410.9 902.5 v5.5 M1410.9 110.8 v-5.5 M1427.1 902.5 v5.5 M1427.1 110.8 v-5.5 M1443.3 902.5 v5.5 M1443.3 110.8 v-5.5 M1459.5 902.5 v10.8 M1459.5 110.8 v-10.8 M163.5 902.5 h-10.8 M163.5 889.3 h-5.5 M163.5 876.1 h-5.5 M163.5 862.9 h-5.5 M163.5 849.7 h-5.5 M163.5 836.5 h-5.5 M163.5 823.3 h-5.5 M163.5 810.1 h-5.5 M163.5 796.9 h-5.5 M163.5 783.7 h-5.5 M163.5 770.5 h-10.8 M163.5 757.4 h-5.5 M163.5 744.2 h-5.5 M163.5 731 h-5.5 M163.5 717.8 h-5.5 M163.5 704.6 h-5.5 M163.5 691.4 h-5.5 M163.5 678.2 h-5.5 M163.5 665 h-5.5 M163.5 651.8 h-5.5 M163.5 638.6 h-10.8 M163.5 625.4 h-5.5 M163.5 612.2 h-5.5 M163.5 599 h-5.5 M163.5 585.8 h-5.5 M163.5 572.6 h-5.5 M163.5 559.4 h-5.5 M163.5 546.2 h-5.5 M163.5 533 h-5.5 M163.5 519.8 h-5.5 M163.5 506.6 h-10.8 M163.5 493.5 h-5.5 M163.5 480.3 h-5.5 M163.5 467.1 h-5.5 M163.5 453.9 h-5.5 M163.5 440.7 h-5.5 M163.5 427.5 h-5.5 M163.5 414.3 h-5.5 M163.5 401.1 h-5.5 M163.5 387.9 h-5.5 M163.5 374.7 h-10.8 M163.5 361.5 h-5.5 M163.5 348.3 h-5.5 M163.5 335.1 h-5.5 M163.5 321.9 h-5.5 M163.5 308.7 h-5.5 M163.5 295.5 h-5.5 M163.5 282.3 h-5.5 M163.5 269.1 h-5.5 M163.5 255.9 h-5.5 M163.5 242.8 h-10.8 M163.5 229.6 h-5.5 M163.5 216.4 h-5.5 M163.5 203.2 h-5.5 M163.5 190 h-5.5 M163.5 176.8 h-5.5 M163.5 163.6 h-5.5 M163.5 150.4 h-5.5 M163.5 137.2 h-5.5 M163.5 124 h-5.5 M163.5 110.8 h-10.8 M1459.5 499.3 h5.5 M1459.5 491.4 h5.5 M1459.5 483.5 h5.5 M1459.5 475.5 h5.5 M1459.5 467.6 h5.5 M1459.5 459.6 h5.5 M1459.5 451.6 h5.5 M1459.5 443.7 h5.5 M1459.5 435.8 h5.5 M1459.5 427.8 h10.8 M1459.5 419.8 h5.5 M1459.5 411.9 h5.5 M1459.5 404 h5.5 M1459.5 396 h5.5 M1459.5 388.1 h5.5 M1459.5 380.1 h5.5 M1459.5 372.1 h5.5 M1459.5 364.2 h5.5 M1459.5 356.3 h5.5 M1459.5 348.3 h10.8 M1459.5 340.3 h5.5 M1459.5 332.4 h5.5 M1459.5 324.5 h5.5 M1459.5 316.5 h5.5 M1459.5 308.6 h5.5 M1459.5 300.6 h5.5 M1459.5 292.6 h5.5 M1459.5 284.7 h5.5 M1459.5 276.8 h5.5 M1459.5 268.8 h10.8 M1459.5 260.8 h5.5 M1459.5 252.9 h5.5 M1459.5 245 h5.5 M1459.5 237 h5.5 M1459.5 229.1 h5.5 M1459.5 221.1 h5.5 M1459.5 213.1 h5.5 M1459.5 205.2 h5.5 M1459.5 197.3 h5.5 M1459.5 189.3 h10.8 M1459.5 181.3 h5.5 M1459.5 173.4 h5.5 M1459.5 165.5 h5.5 M1459.5 157.5 h5.5 M1459.5 149.6 h5.5 M1459.5 141.6 h5.5 M1459.5 133.6 h5.5 M1459.5 125.7 h5.5 M1459.5 117.8 h5.5 M1459.5 902.5 h10.8 M1459.5 889.3 h5.5 M1459.5 876.1 h5.5 M1459.5 862.9 h5.5 M1459.5 849.7 h5.5 M1459.5 836.5 h10.8 M1459.5 823.3 h5.5 M1459.5 810.1 h5.5 M1459.5 796.9 h5.5 M1459.5 783.7 h5.5 M1459.5 770.5 h10.8 M1459.5 757.4 h5.5 M1459.5 744.2 h5.5 M1459.5 731 h5.5 M1459.5 717.8 h5.5 M1459.5 704.6 h10.8 M1459.5 691.4 h5.5 M1459.5 678.2 h5.5 M1459.5 665 h5.5 M1459.5 651.8 h5.5 M1459.5 638.6 h10.8 M1459.5 625.4 h5.5 M1459.5 612.2 h5.5 M1459.5 599 h5.5 M1459.5 585.8 h5.5 M1459.5 572.6 h10.8 M1459.5 559.4 h5.5 M1459.5 546.2 h5.5 M1459.5 533 h5.5 M1459.5 519.8 h5.5 " stroke="#000" stroke-width="1" fill="none"/>
<path d="M1330 111 H1362" stroke="#00a0a0" stroke-opacity="0.45" stroke-width="2" fill="none" shape-rendering="crispEdges"/>
<text x="163.5" y="944.3" font-size="27.6" text-anchor="middle" font-weight="normal"  stroke="#000" stroke-width="0.3">-10</text>
<text x="325.5" y="944.3" font-size="27.6" text-anchor="middle" font-weight="normal"  stroke="#000" stroke-width="0.3">0</text>
<text x="487.5" y="944.3" font-size="27.6" text-anchor="middle" font-weight="normal"  stroke="#000" stroke-width="0.3">10</text>
<text x="649.5" y="944.3" font-size="27.6" text-anchor="middle" font-weight="normal"  stroke="#000" stroke-width="0.3">20</text>
<text x="811.5" y="944.3" font-size="27.6" text-anchor="middle" font-weight="normal"  stroke="#000" stroke-width="0.3">30</text>
<text x="973.5" y="944.3" font-size="27.6" text-anchor="middle" font-weight="normal"  stroke="#000" stroke-width="0.3">40</text>
<text x="1135.5" y="944.3" font-size="27.6" text-anchor="middle" font-weight="normal"  stroke="#000" stroke-width="0.3">50</text>
<text x="1297.5" y="944.3" font-size="27.6" text-anchor="middle" font-weight="normal"  stroke="#000" stroke-width="0.3">60</text>
<text x="1459.5" y="944.3" font-size="27.6" text-anchor="middle" font-weight="normal"  stroke="#000" stroke-width="0.3">70</text>
<text x="141.8" y="912.7" font-size="27.6" text-anchor="end" font-weight="normal"  stroke="#000" stroke-width="0.3">-3000</text>
<text x="141.8" y="780.8" font-size="27.6" text-anchor="end" font-weight="normal"  stroke="#000" stroke-width="0.3">-2000</text>
<text x="141.8" y="648.8" font-size="27.6" text-anchor="end" font-weight="normal"  stroke="#000" stroke-width="0.3">-1000</text>
<text x="141.8" y="516.9" font-size="27.6" text-anchor="end" font-weight="normal"  stroke="#000" stroke-width="0.3">0</text>
<text x="141.8" y="384.9" font-size="27.6" text-anchor="end" font-weight="normal"  stroke="#000" stroke-width="0.3">1000</text>
<text x="141.8" y="252.9" font-size="27.6" text-anchor="end" font-weight="normal"  stroke="#000" stroke-width="0.3">2000</text>
<text x="141.8" y="121" font-size="27.6" text-anchor="end" font-weight="normal"  stroke="#000" stroke-width="0.3">3000</text>
<text x="1479.8" y="438" font-size="27.6" text-anchor="start" font-weight="normal"  stroke="#000" stroke-width="0.3">1004</text>
<text x="1479.8" y="358.5" font-size="27.6" text-anchor="start" font-weight="normal"  stroke="#000" stroke-width="0.3">1005</text>
<text x="1479.8" y="279" font-size="27.6" text-anchor="start" font-weight="normal"  stroke="#000" stroke-width="0.3">1006</text>
<text x="1479.8" y="199.5" font-size="27.6" text-anchor="start" font-weight="normal"  stroke="#000" stroke-width="0.3">1007</text>
<text x="1551" y="912.7" font-size="27.6" text-anchor="end" font-weight="normal"  stroke="#000" stroke-width="0.3">-1500</text>
<text x="1551" y="846.7" font-size="27.6" text-anchor="end" font-weight="normal"  stroke="#000" stroke-width="0.3">-1000</text>
<text x="1551" y="780.8" font-size="27.6" text-anchor="end" font-weight="normal"  stroke="#000" stroke-width="0.3">-500</text>
<text x="1551" y="714.8" font-size="27.6" text-anchor="end" font-weight="normal"  stroke="#000" stroke-width="0.3">0</text>
<text x="1551" y="648.8" font-size="27.6" text-anchor="end" font-weight="normal"  stroke="#000" stroke-width="0.3">500</text>
<text x="1551" y="582.8" font-size="27.6" text-anchor="end" font-weight="normal"  stroke="#000" stroke-width="0.3">1000</text>
<text x="995.9" y="81.6" font-size="32.25" text-anchor="middle" font-weight="bold" >SCG_054 gravimeter Onsala Space Observatory, Sweden</text>
<text x="811" y="1005.4" font-size="48" text-anchor="middle" font-weight="normal" >Time [min] from 2025-12-06 20:01:00 UTC</text>
<text x="192.3" y="887.6" font-size="27.95" text-anchor="start" font-weight="bold" >The latest 1-hour, 1-second sampling</text>
<text x="1430.3" y="887.6" font-size="27.9" text-anchor="end" font-weight="bold" >End at 2025-12-06 21:00:59 UTC</text>
<text transform="translate(44.2 506) rotate(-90)" font-size="47.9" text-anchor="middle">Obs’d Gravity [nm/s<tspan dy="-18" font-size="33.6">2</tspan><tspan dy="18" dx="0.3">]</tspan></text>
<text transform="translate(1603.8 308.6) rotate(-90)" font-size="47.9" text-anchor="middle">Pressure [hPa]</text>
<text transform="translate(1613 702.5) rotate(-90)" font-size="47.9" text-anchor="middle">Tide [nm/s<tspan dy="-16" font-size="33.6">2</tspan><tspan dy="16" dx="1.5">]</tspan></text>
<text transform="translate(244.9 507) rotate(-90)" font-size="24.1" text-anchor="middle" stroke="#000" stroke-width="0.3">Typical noise level</text>
<text transform="translate(1387.3 308.5) rotate(-90)" font-size="23.8" text-anchor="middle" stroke="#000" stroke-width="0.3">1 DIV = 0.5 hPa/h</text>
<text transform="translate(1426.8 309.5) rotate(-90)" font-size="23.5" text-anchor="middle" stroke="#000" stroke-width="0.3">average = -0.4264</text>
<rect x="166.8" y="18.7" width="372.8" height="162.9" fill="#fff" stroke="#777" stroke-width="1.1"/>
<path d="M204.1 39.3 H260.1" stroke="#0000ff" stroke-width="0.8"/><circle cx="232.1" cy="39.3" r="4.1" fill="#0000ff"/>
<path d="M204.1 69.7 H260.1" stroke="#00c8c8" stroke-width="0.8"/><circle cx="232.1" cy="69.7" r="4.1" fill="#00c8c8"/>
<path d="M204.1 100.1 H260.1" stroke="#000" stroke-width="2.3"/>
<path d="M204.1 130.5 H260.1" stroke="#bebebe" stroke-width="2.3"/>
<path d="M204.1 160.9 H260.1" stroke="#ff0000" stroke-width="0.8"/><circle cx="232.1" cy="160.9" r="4.1" fill="#ff0000"/>
<text x="278.8" y="47.9" font-size="24.1" text-anchor="start" font-weight="normal"  stroke="#000" stroke-width="0.3">Pressure</text>
<text x="278.8" y="78.3" font-size="24.1" text-anchor="start" font-weight="normal"  stroke="#000" stroke-width="0.3">dP/dt low-passed</text>
<text x="278.8" y="108.7" font-size="24.1" text-anchor="start" font-weight="normal"  stroke="#000" stroke-width="0.3">Residual</text>
<text x="278.8" y="139.1" font-size="24.1" text-anchor="start" font-weight="normal"  stroke="#000" stroke-width="0.3">... last 10 min.</text>
<text x="278.8" y="169.5" font-size="24.1" text-anchor="start" font-weight="normal"  stroke="#000" stroke-width="0.3">Theor.Tide</text>
</svg>
</body></html>
